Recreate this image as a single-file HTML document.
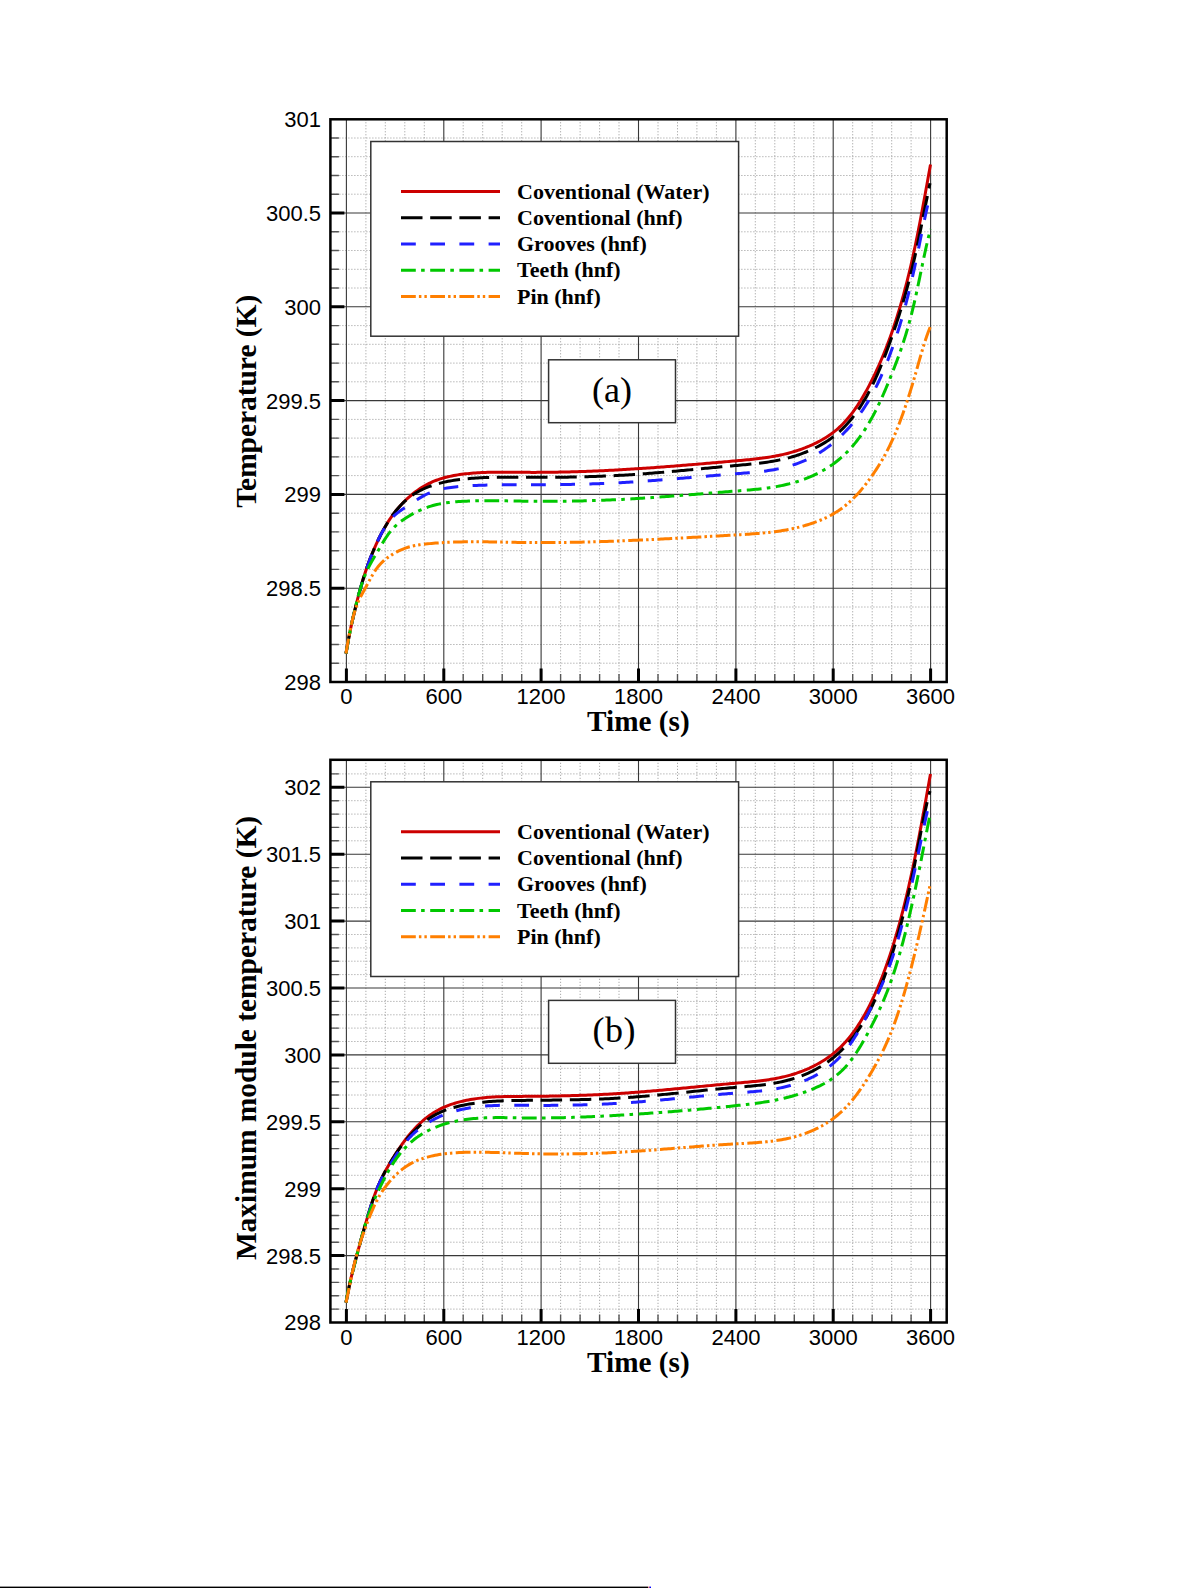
<!DOCTYPE html>
<html><head><meta charset="utf-8"><style>
html,body{margin:0;padding:0;background:#fff;width:1192px;height:1588px;overflow:hidden}
svg{position:absolute;left:0;top:0}
.tk{font-family:"Liberation Sans",sans-serif;font-size:22px;fill:#000}
.ax{font-family:"Liberation Serif",serif;font-weight:bold;font-size:30px;fill:#000}
.lg{font-family:"Liberation Serif",serif;font-weight:bold;font-size:22px;fill:#000}
.bl{font-family:"Liberation Serif",serif;font-size:36px;fill:#000}
</style></head><body>
<svg width="1192" height="1588" viewBox="0 0 1192 1588">
<path d="M365.9,119.3V682.0M385.3,119.3V682.0M404.8,119.3V682.0M424.3,119.3V682.0M463.2,119.3V682.0M482.7,119.3V682.0M502.2,119.3V682.0M521.7,119.3V682.0M560.6,119.3V682.0M580.1,119.3V682.0M599.6,119.3V682.0M619.0,119.3V682.0M658.0,119.3V682.0M677.5,119.3V682.0M696.9,119.3V682.0M716.4,119.3V682.0M755.3,119.3V682.0M774.8,119.3V682.0M794.3,119.3V682.0M813.8,119.3V682.0M852.7,119.3V682.0M872.2,119.3V682.0M891.7,119.3V682.0M911.1,119.3V682.0" stroke="#959595" stroke-width="1" stroke-dasharray="1 2" fill="none"/>
<path d="M330.4,663.2H946.7M330.4,644.5H946.7M330.4,625.7H946.7M330.4,607.0H946.7M330.4,569.4H946.7M330.4,550.7H946.7M330.4,531.9H946.7M330.4,513.2H946.7M330.4,475.6H946.7M330.4,456.9H946.7M330.4,438.1H946.7M330.4,419.4H946.7M330.4,381.8H946.7M330.4,363.1H946.7M330.4,344.3H946.7M330.4,325.6H946.7M330.4,288.0H946.7M330.4,269.3H946.7M330.4,250.5H946.7M330.4,231.8H946.7M330.4,194.2H946.7M330.4,175.5H946.7M330.4,156.7H946.7M330.4,138.0H946.7" stroke="#959595" stroke-width="1" stroke-dasharray="1 2" fill="none"/>
<path d="M346.4,119.3V682.0M443.8,119.3V682.0M541.1,119.3V682.0M638.5,119.3V682.0M735.9,119.3V682.0M833.2,119.3V682.0M930.6,119.3V682.0M330.4,588.2H946.7M330.4,494.4H946.7M330.4,400.6H946.7M330.4,306.8H946.7M330.4,213.0H946.7" stroke="#383838" stroke-width="1.1" fill="none"/>
<rect x="370.8" y="141.5" width="367.8" height="194.7" fill="#fff" stroke="#333" stroke-width="1.5"/>
<rect x="548.6" y="359.8" width="126.9" height="62.9" fill="#fff" stroke="#333" stroke-width="1.5"/>
<path d="M346.00,653.41 L346.33,651.44 L346.66,649.47 L347.00,647.50 L347.35,645.53 L347.70,643.56 L348.06,641.60 L348.43,639.63 L348.81,637.67 L349.19,635.71 L349.58,633.75 L349.97,631.79 L350.38,629.83 L350.79,627.88 L351.20,625.92 L351.63,623.97 L352.06,622.02 L352.50,620.07 L352.94,618.12 L353.40,616.17 L353.85,614.23 L354.31,612.29 L354.78,610.34 L355.25,608.40 L355.73,606.46 L356.21,604.52 L356.70,602.58 L357.19,600.65 L357.69,598.71 L358.19,596.78 L358.70,594.84 L359.22,592.91 L359.74,590.99 L360.27,589.06 L360.81,587.14 L361.36,585.21 L361.91,583.29 L362.48,581.38 L363.05,579.46 L363.64,577.55 L364.23,575.64 L364.84,573.74 L365.46,571.84 L366.09,569.94 L366.73,568.05 L367.39,566.17 L368.06,564.28 L368.74,562.41 L369.44,560.53 L370.15,558.67 L370.88,556.80 L371.62,554.95 L372.37,553.10 L373.14,551.25 L373.93,549.41 L374.72,547.58 L375.53,545.76 L376.36,543.94 L377.20,542.12 L378.05,540.31 L378.92,538.52 L379.80,536.72 L380.70,534.94 L381.62,533.16 L382.56,531.40 L383.51,529.64 L384.49,527.90 L385.48,526.17 L386.50,524.45 L387.54,522.74 L388.60,521.05 L389.69,519.38 L390.81,517.72 L391.96,516.08 L393.13,514.46 L394.33,512.86 L395.55,511.29 L396.81,509.73 L398.09,508.20 L399.40,506.69 L400.74,505.21 L402.11,503.75 L403.50,502.32 L404.92,500.91 L406.36,499.52 L407.82,498.16 L409.31,496.83 L410.82,495.52 L412.36,494.24 L413.92,493.00 L415.51,491.78 L417.12,490.60 L418.76,489.46 L420.42,488.35 L422.10,487.28 L423.82,486.25 L425.55,485.26 L427.31,484.31 L429.09,483.40 L430.90,482.55 L432.72,481.73 L434.57,480.96 L436.43,480.24 L438.31,479.56 L440.20,478.92 L442.11,478.32 L444.03,477.77 L445.96,477.26 L447.90,476.78 L449.85,476.34 L451.81,475.93 L453.77,475.56 L455.74,475.21 L457.71,474.89 L459.69,474.60 L461.66,474.32 L463.65,474.07 L465.63,473.83 L467.62,473.62 L469.61,473.42 L471.60,473.24 L473.59,473.08 L475.58,472.93 L477.58,472.80 L479.57,472.68 L481.57,472.58 L483.56,472.49 L485.56,472.42 L487.56,472.35 L489.55,472.30 L491.55,472.26 L493.55,472.22 L495.55,472.20 L497.55,472.18 L499.54,472.17 L501.54,472.17 L503.54,472.17 L505.54,472.18 L507.54,472.19 L509.54,472.20 L511.53,472.22 L513.53,472.24 L515.53,472.26 L517.53,472.28 L519.53,472.30 L521.52,472.32 L523.52,472.34 L525.52,472.35 L527.52,472.37 L529.52,472.37 L531.52,472.38 L533.51,472.38 L535.51,472.38 L537.51,472.37 L539.51,472.37 L541.51,472.36 L543.50,472.34 L545.50,472.33 L547.50,472.31 L549.50,472.28 L551.50,472.26 L553.50,472.23 L555.49,472.20 L557.49,472.16 L559.49,472.12 L561.49,472.08 L563.49,472.04 L565.48,472.00 L567.48,471.95 L569.48,471.90 L571.48,471.84 L573.47,471.79 L575.47,471.73 L577.47,471.66 L579.47,471.60 L581.46,471.53 L583.46,471.46 L585.46,471.39 L587.45,471.32 L589.45,471.24 L591.45,471.16 L593.44,471.08 L595.44,470.99 L597.44,470.91 L599.43,470.82 L601.43,470.73 L603.42,470.63 L605.42,470.54 L607.42,470.44 L609.41,470.34 L611.41,470.24 L613.40,470.13 L615.40,470.03 L617.39,469.92 L619.39,469.81 L621.38,469.69 L623.38,469.58 L625.37,469.46 L627.37,469.34 L629.36,469.22 L631.36,469.10 L633.35,468.98 L635.35,468.85 L637.34,468.72 L639.33,468.59 L641.33,468.46 L643.32,468.33 L645.32,468.19 L647.31,468.06 L649.30,467.92 L651.30,467.78 L653.29,467.64 L655.28,467.49 L657.28,467.35 L659.27,467.20 L661.26,467.06 L663.25,466.91 L665.25,466.76 L667.24,466.61 L669.23,466.45 L671.22,466.30 L673.22,466.15 L675.21,465.99 L677.20,465.83 L679.19,465.67 L681.19,465.52 L683.18,465.36 L685.17,465.19 L687.16,465.03 L689.15,464.87 L691.14,464.70 L693.13,464.54 L695.13,464.37 L697.12,464.21 L699.11,464.04 L701.10,463.87 L703.09,463.70 L705.08,463.53 L707.07,463.36 L709.06,463.19 L711.06,463.02 L713.05,462.85 L715.04,462.68 L717.03,462.50 L719.02,462.33 L721.01,462.16 L723.00,461.98 L724.99,461.81 L726.98,461.63 L728.97,461.46 L730.96,461.28 L732.95,461.11 L734.94,460.93 L736.93,460.76 L738.92,460.58 L740.91,460.40 L742.90,460.22 L744.89,460.04 L746.88,459.85 L748.87,459.65 L750.86,459.45 L752.85,459.24 L754.83,459.03 L756.82,458.80 L758.80,458.56 L760.79,458.32 L762.77,458.06 L764.75,457.78 L766.73,457.50 L768.70,457.19 L770.67,456.88 L772.64,456.54 L774.61,456.19 L776.57,455.82 L778.53,455.43 L780.49,455.03 L782.44,454.60 L784.39,454.15 L786.33,453.68 L788.27,453.18 L790.20,452.66 L792.12,452.12 L794.04,451.56 L795.95,450.97 L797.85,450.36 L799.74,449.72 L801.63,449.05 L803.50,448.36 L805.37,447.65 L807.22,446.90 L809.07,446.14 L810.90,445.34 L812.72,444.52 L814.53,443.67 L816.33,442.80 L818.11,441.90 L819.88,440.97 L821.64,440.02 L823.38,439.03 L825.09,438.01 L826.79,436.95 L828.46,435.86 L830.11,434.73 L831.74,433.57 L833.33,432.37 L834.90,431.13 L836.45,429.86 L837.96,428.55 L839.44,427.22 L840.90,425.85 L842.32,424.45 L843.72,423.02 L845.09,421.56 L846.43,420.08 L847.74,418.57 L849.02,417.03 L850.27,415.48 L851.50,413.90 L852.71,412.31 L853.89,410.70 L855.04,409.07 L856.18,407.42 L857.30,405.77 L858.39,404.10 L859.47,402.41 L860.53,400.72 L861.58,399.02 L862.60,397.30 L863.62,395.58 L864.61,393.85 L865.60,392.11 L866.56,390.36 L867.52,388.61 L868.46,386.84 L869.39,385.08 L870.31,383.30 L871.22,381.52 L872.12,379.74 L873.01,377.94 L873.88,376.15 L874.75,374.35 L875.60,372.54 L876.45,370.73 L877.29,368.92 L878.11,367.10 L878.93,365.27 L879.74,363.45 L880.53,361.61 L881.32,359.78 L882.10,357.94 L882.87,356.09 L883.63,354.24 L884.38,352.39 L885.12,350.54 L885.86,348.68 L886.58,346.82 L887.30,344.95 L888.00,343.08 L888.70,341.21 L889.39,339.33 L890.08,337.46 L890.75,335.58 L891.42,333.69 L892.08,331.81 L892.73,329.92 L893.38,328.03 L894.01,326.13 L894.64,324.24 L895.27,322.34 L895.88,320.44 L896.49,318.53 L897.10,316.63 L897.69,314.72 L898.28,312.81 L898.87,310.90 L899.44,308.99 L900.01,307.07 L900.58,305.16 L901.13,303.24 L901.68,301.32 L902.23,299.39 L902.77,297.47 L903.30,295.54 L903.83,293.62 L904.35,291.69 L904.87,289.76 L905.38,287.82 L905.88,285.89 L906.38,283.96 L906.88,282.02 L907.37,280.08 L907.85,278.14 L908.33,276.20 L908.80,274.26 L909.27,272.32 L909.74,270.38 L910.20,268.43 L910.65,266.49 L911.10,264.54 L911.55,262.59 L911.99,260.64 L912.43,258.69 L912.86,256.74 L913.29,254.79 L913.72,252.84 L914.14,250.88 L914.55,248.93 L914.97,246.98 L915.38,245.02 L915.78,243.06 L916.19,241.11 L916.59,239.15 L916.98,237.19 L917.38,235.23 L917.77,233.27 L918.16,231.31 L918.55,229.35 L918.93,227.39 L919.31,225.43 L919.69,223.47 L920.07,221.50 L920.45,219.54 L920.82,217.58 L921.19,215.62 L921.56,213.65 L921.93,211.69 L922.30,209.72 L922.67,207.76 L923.03,205.80 L923.40,203.83 L923.76,201.87 L924.12,199.90 L924.48,197.93 L924.84,195.97 L925.20,194.00 L925.56,192.04 L925.91,190.07 L926.27,188.10 L926.62,186.14 L926.98,184.17 L927.33,182.20 L927.69,180.24 L928.04,178.27 L928.39,176.30 L928.74,174.34 L929.10,172.37 L929.45,170.40 L929.80,168.44 L930.15,166.47 L930.50,164.50" fill="none" stroke="#cc0000" stroke-width="3"/>
<path d="M346.00,653.41 L346.33,651.44 L346.66,649.47 L347.00,647.50 L347.35,645.53 L347.70,643.56 L348.06,641.60 L348.43,639.63 L348.81,637.67 L349.19,635.71 L349.58,633.75 L349.97,631.79 L350.38,629.83 L350.79,627.87 L351.21,625.92 L351.63,623.97 L352.06,622.02 L352.50,620.07 L352.95,618.12 L353.40,616.17 L353.85,614.23 L354.32,612.28 L354.78,610.34 L355.25,608.40 L355.73,606.46 L356.21,604.52 L356.70,602.58 L357.19,600.64 L357.69,598.71 L358.19,596.77 L358.70,594.84 L359.22,592.91 L359.74,590.98 L360.28,589.05 L360.81,587.13 L361.36,585.21 L361.92,583.29 L362.48,581.37 L363.05,579.46 L363.64,577.55 L364.23,575.64 L364.84,573.73 L365.46,571.83 L366.09,569.94 L366.74,568.05 L367.39,566.16 L368.06,564.28 L368.75,562.40 L369.44,560.53 L370.16,558.66 L370.88,556.80 L371.62,554.94 L372.38,553.09 L373.14,551.24 L373.93,549.41 L374.73,547.57 L375.54,545.75 L376.36,543.93 L377.20,542.11 L378.06,540.31 L378.92,538.51 L379.81,536.72 L380.71,534.93 L381.63,533.16 L382.57,531.39 L383.52,529.64 L384.50,527.89 L385.49,526.16 L386.51,524.44 L387.55,522.73 L388.61,521.04 L389.70,519.36 L390.81,517.70 L391.95,516.06 L393.12,514.44 L394.31,512.84 L395.54,511.26 L396.80,509.71 L398.09,508.18 L399.41,506.68 L400.76,505.21 L402.15,503.78 L403.58,502.38 L405.04,501.01 L406.54,499.69 L408.07,498.41 L409.64,497.17 L411.24,495.98 L412.88,494.83 L414.55,493.74 L416.25,492.69 L417.99,491.69 L419.75,490.74 L421.53,489.84 L423.34,488.99 L425.16,488.18 L427.01,487.42 L428.87,486.69 L430.75,486.00 L432.63,485.34 L434.53,484.72 L436.45,484.14 L438.37,483.59 L440.30,483.08 L442.24,482.60 L444.19,482.15 L446.14,481.72 L448.10,481.33 L450.06,480.97 L452.03,480.63 L454.01,480.31 L455.98,480.02 L457.96,479.75 L459.95,479.50 L461.93,479.26 L463.92,479.04 L465.90,478.83 L467.89,478.65 L469.88,478.47 L471.88,478.31 L473.87,478.17 L475.86,478.03 L477.86,477.91 L479.85,477.80 L481.85,477.71 L483.85,477.62 L485.84,477.55 L487.84,477.48 L489.84,477.42 L491.84,477.38 L493.83,477.34 L495.83,477.30 L497.83,477.28 L499.83,477.26 L501.83,477.25 L503.83,477.24 L505.82,477.24 L507.82,477.24 L509.82,477.24 L511.82,477.25 L513.82,477.26 L515.82,477.27 L517.81,477.28 L519.81,477.29 L521.81,477.30 L523.81,477.32 L525.81,477.33 L527.81,477.34 L529.80,477.34 L531.80,477.35 L533.80,477.35 L535.80,477.36 L537.80,477.36 L539.80,477.36 L541.80,477.35 L543.79,477.35 L545.79,477.34 L547.79,477.33 L549.79,477.32 L551.79,477.31 L553.79,477.30 L555.78,477.28 L557.78,477.26 L559.78,477.24 L561.78,477.22 L563.78,477.19 L565.78,477.16 L567.77,477.13 L569.77,477.10 L571.77,477.06 L573.77,477.02 L575.77,476.98 L577.76,476.94 L579.76,476.89 L581.76,476.85 L583.76,476.79 L585.76,476.74 L587.75,476.68 L589.75,476.62 L591.75,476.56 L593.75,476.50 L595.74,476.43 L597.74,476.35 L599.74,476.28 L601.73,476.20 L603.73,476.12 L605.73,476.04 L607.72,475.95 L609.72,475.86 L611.72,475.76 L613.71,475.67 L615.71,475.57 L617.70,475.46 L619.70,475.35 L621.69,475.24 L623.69,475.13 L625.68,475.01 L627.68,474.89 L629.67,474.76 L631.67,474.63 L633.66,474.50 L635.66,474.37 L637.65,474.23 L639.64,474.09 L641.64,473.94 L643.63,473.80 L645.62,473.65 L647.62,473.50 L649.61,473.34 L651.60,473.19 L653.59,473.03 L655.58,472.87 L657.58,472.70 L659.57,472.54 L661.56,472.37 L663.55,472.20 L665.54,472.03 L667.53,471.86 L669.52,471.69 L671.51,471.51 L673.50,471.33 L675.49,471.15 L677.48,470.97 L679.48,470.79 L681.47,470.61 L683.46,470.43 L685.45,470.24 L687.43,470.06 L689.42,469.87 L691.41,469.68 L693.40,469.50 L695.39,469.31 L697.38,469.12 L699.37,468.93 L701.36,468.74 L703.35,468.55 L705.34,468.36 L707.33,468.17 L709.32,467.98 L711.31,467.80 L713.30,467.61 L715.29,467.42 L717.28,467.23 L719.27,467.04 L721.26,466.85 L723.25,466.67 L725.24,466.48 L727.23,466.30 L729.22,466.11 L731.21,465.93 L733.20,465.75 L735.19,465.57 L737.18,465.39 L739.17,465.21 L741.16,465.03 L743.15,464.84 L745.14,464.66 L747.13,464.47 L749.12,464.28 L751.10,464.08 L753.09,463.88 L755.08,463.66 L757.07,463.44 L759.05,463.21 L761.03,462.96 L763.02,462.71 L765.00,462.44 L766.97,462.16 L768.95,461.86 L770.92,461.54 L772.90,461.21 L774.86,460.86 L776.83,460.50 L778.79,460.11 L780.74,459.70 L782.70,459.27 L784.64,458.82 L786.58,458.35 L788.52,457.85 L790.45,457.33 L792.37,456.78 L794.29,456.21 L796.19,455.61 L798.09,454.99 L799.98,454.34 L801.86,453.67 L803.73,452.96 L805.59,452.23 L807.44,451.47 L809.28,450.69 L811.11,449.88 L812.92,449.04 L814.72,448.17 L816.51,447.27 L818.28,446.35 L820.04,445.40 L821.78,444.42 L823.51,443.41 L825.21,442.37 L826.90,441.30 L828.56,440.19 L830.20,439.06 L831.82,437.89 L833.42,436.68 L834.99,435.45 L836.54,434.18 L838.06,432.88 L839.55,431.56 L841.02,430.20 L842.46,428.82 L843.88,427.41 L845.27,425.98 L846.64,424.52 L847.98,423.03 L849.29,421.53 L850.58,420.00 L851.85,418.46 L853.09,416.89 L854.31,415.31 L855.50,413.71 L856.68,412.09 L857.83,410.45 L858.95,408.80 L860.06,407.14 L861.15,405.46 L862.21,403.77 L863.26,402.07 L864.28,400.35 L865.29,398.63 L866.28,396.89 L867.26,395.15 L868.21,393.39 L869.15,391.63 L870.07,389.85 L870.98,388.07 L871.87,386.29 L872.75,384.49 L873.61,382.69 L874.46,380.88 L875.30,379.07 L876.13,377.25 L876.94,375.42 L877.74,373.59 L878.53,371.75 L879.31,369.91 L880.08,368.07 L880.85,366.22 L881.60,364.37 L882.35,362.52 L883.08,360.66 L883.81,358.80 L884.54,356.94 L885.25,355.07 L885.96,353.20 L886.66,351.33 L887.36,349.46 L888.05,347.58 L888.73,345.70 L889.41,343.83 L890.08,341.94 L890.75,340.06 L891.41,338.17 L892.07,336.29 L892.72,334.40 L893.37,332.51 L894.02,330.62 L894.66,328.72 L895.29,326.83 L895.92,324.93 L896.55,323.04 L897.18,321.14 L897.79,319.24 L898.41,317.33 L899.01,315.43 L899.62,313.53 L900.21,311.62 L900.81,309.71 L901.39,307.80 L901.97,305.89 L902.55,303.97 L903.12,302.06 L903.68,300.14 L904.24,298.22 L904.79,296.30 L905.34,294.38 L905.88,292.45 L906.41,290.53 L906.94,288.60 L907.46,286.67 L907.98,284.74 L908.49,282.81 L909.00,280.88 L909.50,278.94 L909.99,277.01 L910.48,275.07 L910.96,273.13 L911.44,271.19 L911.91,269.25 L912.38,267.30 L912.85,265.36 L913.30,263.41 L913.76,261.47 L914.21,259.52 L914.65,257.57 L915.09,255.62 L915.52,253.67 L915.95,251.72 L916.38,249.77 L916.80,247.81 L917.22,245.86 L917.64,243.91 L918.05,241.95 L918.47,240.00 L918.88,238.04 L919.28,236.08 L919.69,234.13 L920.09,232.17 L920.50,230.21 L920.90,228.25 L921.29,226.30 L921.69,224.34 L922.09,222.38 L922.49,220.42 L922.88,218.46 L923.28,216.50 L923.67,214.54 L924.06,212.58 L924.46,210.62 L924.85,208.66 L925.24,206.71 L925.63,204.75 L926.03,202.79 L926.42,200.83 L926.82,198.87 L927.21,196.91 L927.61,194.95 L928.00,192.99 L928.40,191.03 L928.80,189.07 L929.20,187.12 L929.60,185.16 L930.00,183.20" fill="none" stroke="#000000" stroke-width="3" stroke-dasharray="21.5 7.7"/>
<path d="M346.00,653.41 L346.33,651.44 L346.67,649.46 L347.01,647.50 L347.35,645.53 L347.71,643.56 L348.07,641.59 L348.44,639.63 L348.81,637.67 L349.19,635.70 L349.58,633.74 L349.98,631.78 L350.38,629.83 L350.79,627.87 L351.21,625.92 L351.63,623.96 L352.06,622.01 L352.50,620.06 L352.94,618.11 L353.39,616.16 L353.85,614.22 L354.31,612.27 L354.78,610.33 L355.25,608.39 L355.72,606.45 L356.21,604.51 L356.69,602.57 L357.19,600.63 L357.69,598.70 L358.19,596.76 L358.70,594.83 L359.22,592.90 L359.75,590.97 L360.28,589.04 L360.82,587.12 L361.37,585.20 L361.93,583.28 L362.50,581.36 L363.07,579.45 L363.66,577.54 L364.26,575.63 L364.86,573.73 L365.48,571.82 L366.11,569.93 L366.75,568.04 L367.41,566.15 L368.08,564.26 L368.76,562.38 L369.45,560.51 L370.16,558.64 L370.88,556.78 L371.62,554.92 L372.37,553.06 L373.13,551.22 L373.91,549.38 L374.70,547.54 L375.51,545.71 L376.33,543.89 L377.16,542.07 L378.02,540.27 L378.89,538.47 L379.78,536.68 L380.69,534.90 L381.62,533.13 L382.58,531.38 L383.57,529.64 L384.59,527.92 L385.65,526.23 L386.75,524.56 L387.90,522.92 L389.09,521.32 L390.35,519.77 L391.67,518.27 L393.05,516.82 L394.49,515.43 L395.98,514.11 L397.53,512.84 L399.12,511.62 L400.74,510.46 L402.39,509.32 L404.04,508.21 L405.71,507.10 L407.37,505.98 L409.02,504.87 L410.69,503.76 L412.35,502.65 L414.02,501.56 L415.71,500.48 L417.40,499.41 L419.10,498.37 L420.82,497.35 L422.56,496.37 L424.32,495.42 L426.10,494.51 L427.90,493.65 L429.73,492.85 L431.59,492.10 L433.46,491.41 L435.36,490.77 L437.27,490.18 L439.20,489.65 L441.14,489.17 L443.09,488.74 L445.05,488.35 L447.01,488.00 L448.99,487.68 L450.97,487.41 L452.95,487.16 L454.94,486.94 L456.93,486.74 L458.92,486.55 L460.91,486.39 L462.90,486.23 L464.89,486.08 L466.89,485.95 L468.88,485.82 L470.88,485.70 L472.87,485.60 L474.87,485.50 L476.87,485.41 L478.87,485.33 L480.86,485.25 L482.86,485.19 L484.86,485.13 L486.86,485.07 L488.85,485.03 L490.85,484.99 L492.85,484.95 L494.85,484.92 L496.85,484.90 L498.85,484.87 L500.85,484.86 L502.84,484.84 L504.84,484.83 L506.84,484.82 L508.84,484.82 L510.84,484.82 L512.84,484.81 L514.84,484.81 L516.84,484.81 L518.83,484.81 L520.83,484.82 L522.83,484.82 L524.83,484.82 L526.83,484.81 L528.83,484.81 L530.83,484.81 L532.83,484.80 L534.82,484.80 L536.82,484.79 L538.82,484.78 L540.82,484.77 L542.82,484.76 L544.82,484.74 L546.82,484.73 L548.82,484.71 L550.81,484.69 L552.81,484.68 L554.81,484.65 L556.81,484.63 L558.81,484.60 L560.81,484.58 L562.81,484.55 L564.81,484.52 L566.80,484.48 L568.80,484.45 L570.80,484.41 L572.80,484.37 L574.80,484.33 L576.80,484.29 L578.79,484.24 L580.79,484.19 L582.79,484.14 L584.79,484.09 L586.79,484.03 L588.78,483.97 L590.78,483.91 L592.78,483.85 L594.78,483.78 L596.77,483.71 L598.77,483.64 L600.77,483.57 L602.77,483.49 L604.76,483.41 L606.76,483.32 L608.76,483.24 L610.75,483.15 L612.75,483.06 L614.75,482.96 L616.74,482.86 L618.74,482.76 L620.74,482.66 L622.73,482.55 L624.73,482.44 L626.72,482.32 L628.72,482.20 L630.71,482.08 L632.71,481.96 L634.70,481.83 L636.70,481.70 L638.69,481.57 L640.69,481.44 L642.68,481.30 L644.67,481.16 L646.67,481.02 L648.66,480.87 L650.66,480.73 L652.65,480.58 L654.64,480.43 L656.64,480.28 L658.63,480.12 L660.62,479.97 L662.61,479.81 L664.61,479.65 L666.60,479.49 L668.59,479.33 L670.58,479.17 L672.57,479.01 L674.57,478.84 L676.56,478.68 L678.55,478.51 L680.54,478.34 L682.53,478.18 L684.53,478.01 L686.52,477.84 L688.51,477.67 L690.50,477.50 L692.49,477.33 L694.48,477.16 L696.48,476.99 L698.47,476.82 L700.46,476.65 L702.45,476.48 L704.44,476.31 L706.43,476.14 L708.42,475.97 L710.42,475.81 L712.41,475.64 L714.40,475.47 L716.39,475.31 L718.38,475.14 L720.38,474.98 L722.37,474.82 L724.36,474.66 L726.35,474.50 L728.35,474.34 L730.34,474.18 L732.33,474.03 L734.32,473.87 L736.32,473.72 L738.31,473.57 L740.30,473.42 L742.30,473.27 L744.29,473.12 L746.28,472.96 L748.27,472.80 L750.27,472.63 L752.26,472.45 L754.25,472.27 L756.24,472.07 L758.22,471.86 L760.21,471.64 L762.20,471.41 L764.18,471.16 L766.16,470.89 L768.14,470.61 L770.11,470.31 L772.09,469.99 L774.06,469.65 L776.02,469.28 L777.98,468.89 L779.94,468.48 L781.89,468.04 L783.83,467.58 L785.77,467.09 L787.70,466.57 L789.62,466.03 L791.54,465.45 L793.44,464.85 L795.34,464.21 L797.22,463.55 L799.10,462.85 L800.96,462.13 L802.81,461.37 L804.65,460.59 L806.47,459.77 L808.28,458.92 L810.08,458.04 L811.86,457.13 L813.62,456.19 L815.37,455.22 L817.10,454.22 L818.81,453.19 L820.51,452.14 L822.19,451.05 L823.85,449.94 L825.49,448.80 L827.12,447.64 L828.72,446.44 L830.31,445.23 L831.87,443.98 L833.42,442.72 L834.94,441.43 L836.45,440.12 L837.94,438.78 L839.41,437.43 L840.86,436.05 L842.29,434.66 L843.70,433.24 L845.10,431.81 L846.47,430.36 L847.83,428.89 L849.17,427.41 L850.49,425.91 L851.79,424.39 L853.07,422.86 L854.34,421.31 L855.59,419.75 L856.81,418.17 L858.02,416.58 L859.21,414.97 L860.38,413.35 L861.53,411.71 L862.66,410.06 L863.77,408.40 L864.86,406.73 L865.93,405.04 L866.99,403.35 L868.03,401.64 L869.05,399.92 L870.05,398.19 L871.03,396.45 L872.00,394.70 L872.96,392.95 L873.89,391.18 L874.82,389.41 L875.72,387.63 L876.62,385.84 L877.50,384.04 L878.36,382.24 L879.21,380.43 L880.05,378.62 L880.88,376.80 L881.69,374.97 L882.50,373.14 L883.29,371.31 L884.07,369.47 L884.84,367.62 L885.59,365.77 L886.34,363.92 L887.08,362.06 L887.81,360.20 L888.53,358.34 L889.24,356.47 L889.94,354.60 L890.63,352.72 L891.32,350.84 L891.99,348.96 L892.66,347.08 L893.32,345.19 L893.97,343.30 L894.62,341.41 L895.26,339.52 L895.89,337.62 L896.51,335.72 L897.13,333.82 L897.74,331.91 L898.34,330.01 L898.93,328.10 L899.52,326.19 L900.10,324.28 L900.68,322.36 L901.25,320.45 L901.81,318.53 L902.36,316.61 L902.91,314.69 L903.46,312.76 L903.99,310.84 L904.52,308.91 L905.05,306.98 L905.57,305.05 L906.08,303.12 L906.59,301.19 L907.09,299.25 L907.59,297.32 L908.08,295.38 L908.57,293.44 L909.05,291.50 L909.52,289.56 L909.99,287.62 L910.46,285.67 L910.92,283.73 L911.38,281.78 L911.83,279.84 L912.28,277.89 L912.72,275.94 L913.16,273.99 L913.59,272.04 L914.02,270.09 L914.45,268.13 L914.87,266.18 L915.29,264.22 L915.70,262.27 L916.11,260.31 L916.52,258.36 L916.93,256.40 L917.34,254.44 L917.74,252.49 L918.14,250.53 L918.54,248.57 L918.94,246.61 L919.34,244.65 L919.74,242.69 L920.14,240.74 L920.54,238.78 L920.94,236.82 L921.34,234.86 L921.74,232.90 L922.15,230.94 L922.55,228.99 L922.96,227.03 L923.36,225.07 L923.77,223.12 L924.19,221.16 L924.60,219.21 L925.02,217.25 L925.45,215.30 L925.87,213.35 L926.30,211.39 L926.74,209.44 L927.18,207.49 L927.63,205.55 L928.09,203.60 L928.55,201.66 L929.02,199.71 L929.50,197.77 L930.00,195.84 L930.50,193.90" fill="none" stroke="#2020ff" stroke-width="3" stroke-dasharray="14.8 14.4"/>
<path d="M346.00,653.40 L346.35,651.43 L346.70,649.47 L347.05,647.50 L347.41,645.54 L347.77,643.57 L348.14,641.61 L348.51,639.65 L348.88,637.68 L349.26,635.72 L349.64,633.76 L350.03,631.80 L350.42,629.84 L350.82,627.89 L351.22,625.93 L351.63,623.97 L352.04,622.02 L352.46,620.07 L352.88,618.12 L353.31,616.17 L353.75,614.22 L354.20,612.27 L354.65,610.32 L355.11,608.38 L355.57,606.44 L356.05,604.50 L356.53,602.56 L357.03,600.62 L357.53,598.69 L358.05,596.76 L358.57,594.84 L359.11,592.91 L359.66,590.99 L360.23,589.08 L360.81,587.17 L361.41,585.26 L362.03,583.36 L362.67,581.47 L363.34,579.59 L364.03,577.71 L364.75,575.85 L365.50,574.00 L366.29,572.16 L367.11,570.34 L367.97,568.54 L368.86,566.75 L369.78,564.98 L370.74,563.23 L371.72,561.49 L372.72,559.76 L373.74,558.04 L374.76,556.32 L375.78,554.61 L376.79,552.88 L377.80,551.16 L378.80,549.43 L379.81,547.71 L380.82,545.98 L381.83,544.26 L382.86,542.55 L383.90,540.85 L384.96,539.15 L386.05,537.48 L387.16,535.82 L388.31,534.19 L389.51,532.59 L390.76,531.03 L392.06,529.51 L393.41,528.04 L394.81,526.62 L396.26,525.24 L397.76,523.92 L399.30,522.66 L400.89,521.44 L402.50,520.27 L404.15,519.14 L405.82,518.04 L407.50,516.96 L409.20,515.92 L410.92,514.90 L412.66,513.91 L414.41,512.96 L416.19,512.04 L417.98,511.16 L419.79,510.31 L421.61,509.50 L423.46,508.73 L425.32,508.01 L427.19,507.32 L429.09,506.68 L430.99,506.09 L432.91,505.54 L434.84,505.03 L436.79,504.56 L438.74,504.13 L440.70,503.74 L442.66,503.39 L444.63,503.07 L446.61,502.78 L448.59,502.52 L450.57,502.29 L452.56,502.08 L454.55,501.90 L456.54,501.73 L458.53,501.59 L460.52,501.45 L462.52,501.33 L464.51,501.22 L466.51,501.13 L468.50,501.04 L470.50,500.96 L472.50,500.90 L474.49,500.84 L476.49,500.79 L478.49,500.76 L480.48,500.73 L482.48,500.70 L484.48,500.69 L486.48,500.68 L488.47,500.68 L490.47,500.68 L492.47,500.69 L494.46,500.70 L496.46,500.72 L498.46,500.75 L500.46,500.77 L502.45,500.80 L504.45,500.83 L506.45,500.87 L508.44,500.90 L510.44,500.94 L512.44,500.97 L514.44,501.01 L516.43,501.05 L518.43,501.08 L520.43,501.12 L522.42,501.15 L524.42,501.18 L526.42,501.21 L528.42,501.24 L530.41,501.26 L532.41,501.28 L534.41,501.30 L536.40,501.32 L538.40,501.33 L540.40,501.34 L542.40,501.34 L544.39,501.35 L546.39,501.35 L548.39,501.35 L550.39,501.34 L552.38,501.34 L554.38,501.33 L556.38,501.31 L558.38,501.30 L560.37,501.28 L562.37,501.26 L564.37,501.24 L566.37,501.21 L568.36,501.18 L570.36,501.15 L572.36,501.12 L574.35,501.08 L576.35,501.04 L578.35,501.00 L580.34,500.95 L582.34,500.90 L584.34,500.85 L586.33,500.80 L588.33,500.74 L590.33,500.69 L592.32,500.62 L594.32,500.56 L596.32,500.49 L598.31,500.42 L600.31,500.35 L602.30,500.28 L604.30,500.20 L606.30,500.12 L608.29,500.04 L610.29,499.95 L612.28,499.86 L614.28,499.77 L616.27,499.68 L618.27,499.58 L620.26,499.48 L622.26,499.38 L624.25,499.27 L626.25,499.17 L628.24,499.06 L630.24,498.94 L632.23,498.83 L634.22,498.71 L636.22,498.59 L638.21,498.47 L640.21,498.35 L642.20,498.22 L644.19,498.09 L646.18,497.96 L648.18,497.83 L650.17,497.69 L652.16,497.56 L654.16,497.42 L656.15,497.28 L658.14,497.14 L660.13,497.00 L662.13,496.85 L664.12,496.71 L666.11,496.56 L668.10,496.41 L670.09,496.26 L672.09,496.11 L674.08,495.96 L676.07,495.81 L678.06,495.65 L680.05,495.50 L682.04,495.34 L684.03,495.19 L686.02,495.03 L688.02,494.87 L690.01,494.71 L692.00,494.55 L693.99,494.40 L695.98,494.24 L697.97,494.07 L699.96,493.91 L701.95,493.75 L703.94,493.59 L705.93,493.43 L707.93,493.27 L709.92,493.11 L711.91,492.95 L713.90,492.78 L715.89,492.62 L717.88,492.46 L719.87,492.30 L721.86,492.14 L723.85,491.98 L725.84,491.82 L727.83,491.66 L729.83,491.50 L731.82,491.35 L733.81,491.19 L735.80,491.03 L737.79,490.88 L739.78,490.72 L741.77,490.57 L743.76,490.41 L745.76,490.25 L747.75,490.08 L749.74,489.91 L751.72,489.73 L753.71,489.54 L755.70,489.35 L757.69,489.15 L759.67,488.93 L761.66,488.71 L763.64,488.47 L765.62,488.22 L767.60,487.96 L769.58,487.68 L771.56,487.38 L773.53,487.07 L775.50,486.74 L777.47,486.39 L779.43,486.02 L781.39,485.63 L783.34,485.22 L785.29,484.78 L787.24,484.33 L789.18,483.85 L791.11,483.34 L793.04,482.82 L794.95,482.26 L796.87,481.69 L798.77,481.08 L800.67,480.45 L802.55,479.79 L804.43,479.11 L806.29,478.40 L808.15,477.66 L810.00,476.89 L811.83,476.10 L813.65,475.28 L815.46,474.43 L817.25,473.56 L819.04,472.66 L820.80,471.73 L822.55,470.77 L824.29,469.78 L826.01,468.76 L827.71,467.71 L829.38,466.62 L831.04,465.51 L832.68,464.37 L834.29,463.19 L835.89,461.98 L837.46,460.75 L839.00,459.49 L840.53,458.19 L842.02,456.87 L843.50,455.53 L844.95,454.15 L846.38,452.76 L847.78,451.34 L849.16,449.89 L850.52,448.43 L851.85,446.94 L853.16,445.43 L854.45,443.90 L855.71,442.36 L856.96,440.79 L858.17,439.21 L859.37,437.61 L860.55,436.00 L861.70,434.37 L862.83,432.72 L863.95,431.06 L865.04,429.39 L866.11,427.71 L867.16,426.01 L868.20,424.30 L869.22,422.58 L870.22,420.85 L871.20,419.11 L872.17,417.37 L873.12,415.61 L874.05,413.84 L874.97,412.07 L875.88,410.29 L876.77,408.50 L877.65,406.71 L878.51,404.91 L879.37,403.10 L880.21,401.29 L881.05,399.48 L881.87,397.66 L882.69,395.84 L883.50,394.01 L884.30,392.18 L885.09,390.35 L885.87,388.51 L886.65,386.67 L887.42,384.83 L888.18,382.98 L888.94,381.13 L889.69,379.28 L890.44,377.43 L891.18,375.57 L891.91,373.72 L892.64,371.86 L893.36,370.00 L894.08,368.13 L894.80,366.27 L895.51,364.40 L896.22,362.53 L896.92,360.66 L897.61,358.79 L898.30,356.91 L898.98,355.04 L899.65,353.16 L900.32,351.27 L900.98,349.39 L901.62,347.50 L902.26,345.60 L902.90,343.71 L903.52,341.81 L904.13,339.91 L904.73,338.01 L905.33,336.10 L905.91,334.19 L906.49,332.28 L907.06,330.36 L907.62,328.44 L908.17,326.52 L908.71,324.60 L909.24,322.68 L909.76,320.75 L910.28,318.82 L910.79,316.89 L911.29,314.95 L911.78,313.02 L912.26,311.08 L912.74,309.14 L913.21,307.20 L913.67,305.26 L914.13,303.31 L914.58,301.37 L915.02,299.42 L915.46,297.47 L915.89,295.52 L916.32,293.57 L916.74,291.62 L917.16,289.66 L917.58,287.71 L917.99,285.76 L918.40,283.80 L918.81,281.85 L919.22,279.89 L919.63,277.94 L920.04,275.98 L920.44,274.02 L920.85,272.07 L921.25,270.11 L921.66,268.16 L922.07,266.20 L922.47,264.25 L922.88,262.29 L923.29,260.34 L923.71,258.38 L924.12,256.43 L924.54,254.48 L924.96,252.52 L925.39,250.57 L925.82,248.62 L926.25,246.67 L926.69,244.72 L927.14,242.78 L927.59,240.83 L928.05,238.89 L928.52,236.95 L929.00,235.01 L929.48,233.07 L929.99,231.14 L930.50,229.21" fill="none" stroke="#00c800" stroke-width="3" stroke-dasharray="14.8 5.3 3.6 5.5"/>
<path d="M346.00,653.42 L346.32,651.45 L346.64,649.48 L346.97,647.51 L347.30,645.54 L347.64,643.58 L347.99,641.61 L348.34,639.65 L348.70,637.68 L349.07,635.72 L349.45,633.76 L349.83,631.80 L350.23,629.85 L350.64,627.89 L351.06,625.94 L351.49,623.99 L351.94,622.05 L352.40,620.11 L352.88,618.17 L353.38,616.24 L353.90,614.31 L354.45,612.39 L355.03,610.48 L355.65,608.59 L356.30,606.70 L357.00,604.83 L357.73,602.97 L358.52,601.14 L359.35,599.32 L360.22,597.53 L361.14,595.76 L362.08,594.00 L363.05,592.25 L364.02,590.51 L364.98,588.76 L365.93,587.00 L366.87,585.25 L367.81,583.49 L368.76,581.73 L369.70,579.97 L370.66,578.22 L371.64,576.48 L372.63,574.75 L373.66,573.04 L374.72,571.34 L375.82,569.68 L376.98,568.06 L378.21,566.48 L379.50,564.96 L380.85,563.49 L382.26,562.08 L383.74,560.74 L385.27,559.46 L386.85,558.24 L388.46,557.07 L390.11,555.94 L391.78,554.85 L393.48,553.80 L395.20,552.79 L396.95,551.83 L398.73,550.92 L400.53,550.07 L402.36,549.27 L404.21,548.53 L406.09,547.86 L407.99,547.25 L409.91,546.70 L411.85,546.21 L413.79,545.77 L415.75,545.38 L417.72,545.04 L419.69,544.74 L421.67,544.47 L423.65,544.23 L425.63,544.02 L427.62,543.82 L429.61,543.63 L431.59,543.45 L433.58,543.28 L435.57,543.12 L437.56,542.97 L439.55,542.84 L441.54,542.71 L443.54,542.59 L445.53,542.48 L447.52,542.37 L449.52,542.28 L451.51,542.20 L453.50,542.12 L455.50,542.05 L457.49,541.99 L459.49,541.94 L461.48,541.89 L463.48,541.86 L465.48,541.83 L467.47,541.80 L469.47,541.78 L471.46,541.77 L473.46,541.76 L475.45,541.76 L477.45,541.77 L479.45,541.78 L481.44,541.79 L483.44,541.81 L485.43,541.83 L487.43,541.85 L489.42,541.88 L491.42,541.91 L493.41,541.94 L495.41,541.97 L497.41,542.01 L499.40,542.05 L501.40,542.08 L503.39,542.12 L505.39,542.16 L507.38,542.20 L509.38,542.24 L511.37,542.28 L513.37,542.32 L515.36,542.36 L517.36,542.39 L519.36,542.42 L521.35,542.46 L523.35,542.49 L525.34,542.51 L527.34,542.53 L529.33,542.55 L531.33,542.57 L533.33,542.59 L535.32,542.60 L537.32,542.61 L539.31,542.61 L541.31,542.61 L543.30,542.61 L545.30,542.61 L547.30,542.61 L549.29,542.60 L551.29,542.59 L553.28,542.58 L555.28,542.56 L557.27,542.54 L559.27,542.52 L561.27,542.50 L563.26,542.47 L565.26,542.45 L567.25,542.42 L569.25,542.38 L571.24,542.35 L573.24,542.31 L575.23,542.27 L577.23,542.23 L579.23,542.19 L581.22,542.14 L583.22,542.10 L585.21,542.05 L587.21,542.00 L589.20,541.94 L591.20,541.89 L593.19,541.83 L595.19,541.77 L597.18,541.71 L599.18,541.65 L601.17,541.59 L603.17,541.52 L605.16,541.45 L607.15,541.39 L609.15,541.32 L611.14,541.24 L613.14,541.17 L615.13,541.10 L617.13,541.02 L619.12,540.94 L621.12,540.87 L623.11,540.79 L625.10,540.70 L627.10,540.62 L629.09,540.54 L631.09,540.45 L633.08,540.37 L635.07,540.28 L637.07,540.19 L639.06,540.10 L641.06,540.01 L643.05,539.92 L645.04,539.83 L647.04,539.74 L649.03,539.64 L651.02,539.55 L653.02,539.45 L655.01,539.35 L657.00,539.26 L659.00,539.16 L660.99,539.06 L662.98,538.96 L664.98,538.86 L666.97,538.75 L668.96,538.65 L670.96,538.55 L672.95,538.44 L674.94,538.34 L676.93,538.23 L678.93,538.13 L680.92,538.02 L682.91,537.91 L684.91,537.80 L686.90,537.69 L688.89,537.59 L690.89,537.48 L692.88,537.37 L694.87,537.25 L696.86,537.14 L698.86,537.03 L700.85,536.92 L702.84,536.81 L704.83,536.70 L706.83,536.58 L708.82,536.47 L710.81,536.36 L712.80,536.24 L714.80,536.13 L716.79,536.01 L718.78,535.90 L720.77,535.79 L722.77,535.67 L724.76,535.56 L726.75,535.44 L728.74,535.33 L730.74,535.21 L732.73,535.10 L734.72,534.98 L736.71,534.87 L738.71,534.75 L740.70,534.63 L742.69,534.52 L744.68,534.39 L746.68,534.27 L748.67,534.14 L750.66,534.01 L752.65,533.87 L754.64,533.72 L756.63,533.57 L758.62,533.41 L760.61,533.24 L762.60,533.06 L764.58,532.87 L766.57,532.67 L768.55,532.46 L770.54,532.23 L772.52,532.00 L774.50,531.74 L776.47,531.48 L778.45,531.20 L780.42,530.90 L782.39,530.58 L784.36,530.25 L786.33,529.90 L788.29,529.53 L790.25,529.15 L792.20,528.74 L794.15,528.31 L796.10,527.87 L798.04,527.40 L799.97,526.91 L801.90,526.39 L803.82,525.86 L805.74,525.30 L807.65,524.72 L809.55,524.12 L811.44,523.49 L813.33,522.84 L815.21,522.16 L817.08,521.46 L818.94,520.74 L820.79,519.99 L822.62,519.21 L824.45,518.40 L826.26,517.56 L828.05,516.68 L829.83,515.77 L831.59,514.83 L833.32,513.85 L835.04,512.83 L836.74,511.78 L838.41,510.69 L840.06,509.57 L841.68,508.41 L843.28,507.21 L844.86,505.99 L846.41,504.73 L847.93,503.44 L849.43,502.12 L850.90,500.77 L852.34,499.39 L853.76,497.99 L855.16,496.56 L856.53,495.11 L857.88,493.65 L859.21,492.16 L860.52,490.65 L861.81,489.13 L863.09,487.59 L864.34,486.04 L865.58,484.47 L866.80,482.89 L868.00,481.30 L869.19,479.70 L870.36,478.08 L871.52,476.46 L872.66,474.82 L873.79,473.17 L874.90,471.52 L876.01,469.86 L877.09,468.18 L878.17,466.50 L879.22,464.81 L880.27,463.10 L881.29,461.39 L882.30,459.67 L883.29,457.94 L884.27,456.20 L885.23,454.45 L886.17,452.69 L887.10,450.92 L888.01,449.14 L888.90,447.36 L889.78,445.57 L890.65,443.77 L891.49,441.96 L892.33,440.15 L893.15,438.33 L893.95,436.51 L894.75,434.67 L895.53,432.84 L896.29,430.99 L897.04,429.15 L897.79,427.29 L898.52,425.44 L899.24,423.57 L899.95,421.71 L900.65,419.84 L901.34,417.97 L902.02,416.09 L902.70,414.21 L903.37,412.33 L904.02,410.45 L904.68,408.56 L905.32,406.67 L905.96,404.78 L906.59,402.89 L907.21,400.99 L907.83,399.10 L908.44,397.20 L909.05,395.29 L909.65,393.39 L910.24,391.49 L910.83,389.58 L911.42,387.67 L912.00,385.76 L912.57,383.85 L913.14,381.94 L913.71,380.02 L914.27,378.11 L914.82,376.19 L915.38,374.27 L915.93,372.35 L916.47,370.44 L917.02,368.52 L917.57,366.60 L918.11,364.68 L918.66,362.76 L919.20,360.84 L919.75,358.92 L920.30,357.00 L920.86,355.08 L921.42,353.17 L921.98,351.25 L922.55,349.34 L923.13,347.43 L923.71,345.52 L924.30,343.61 L924.91,341.71 L925.52,339.81 L926.15,337.92 L926.80,336.03 L927.46,334.15 L928.14,332.27 L928.85,330.41 L929.60,328.56 L930.38,326.72 L931.20,324.90" fill="none" stroke="#ff7f00" stroke-width="3" stroke-dasharray="14.8 3.1 2.5 3 2.4 3.4"/>
<path d="M401,191.5H500" stroke="#cc0000" stroke-width="3" fill="none"/>
<text x="517" y="198.5" class="lg">Coventional (Water)</text>
<path d="M401,217.8H500" stroke="#000000" stroke-width="3" stroke-dasharray="21.5 7.7" fill="none"/>
<text x="517" y="224.8" class="lg">Coventional (hnf)</text>
<path d="M401,244.0H500" stroke="#2020ff" stroke-width="3" stroke-dasharray="14.8 14.4" fill="none"/>
<text x="517" y="251.0" class="lg">Grooves (hnf)</text>
<path d="M401,270.2H500" stroke="#00c800" stroke-width="3" stroke-dasharray="14.8 5.3 3.6 5.5" fill="none"/>
<text x="517" y="277.2" class="lg">Teeth (hnf)</text>
<path d="M401,296.5H500" stroke="#ff7f00" stroke-width="3" stroke-dasharray="14.8 3.1 2.5 3 2.4 3.4" fill="none"/>
<text x="517" y="303.5" class="lg">Pin (hnf)</text>
<text x="612.1" y="401.5" class="bl" text-anchor="middle" letter-spacing="0">(a)</text>
<path d="M365.9,682.0V674.0M385.3,682.0V674.0M404.8,682.0V674.0M424.3,682.0V674.0M463.2,682.0V674.0M482.7,682.0V674.0M502.2,682.0V674.0M521.7,682.0V674.0M560.6,682.0V674.0M580.1,682.0V674.0M599.6,682.0V674.0M619.0,682.0V674.0M658.0,682.0V674.0M677.5,682.0V674.0M696.9,682.0V674.0M716.4,682.0V674.0M755.3,682.0V674.0M774.8,682.0V674.0M794.3,682.0V674.0M813.8,682.0V674.0M852.7,682.0V674.0M872.2,682.0V674.0M891.7,682.0V674.0M911.1,682.0V674.0M330.4,663.2H338.9M330.4,644.5H338.9M330.4,625.7H338.9M330.4,607.0H338.9M330.4,569.4H338.9M330.4,550.7H338.9M330.4,531.9H338.9M330.4,513.2H338.9M330.4,475.6H338.9M330.4,456.9H338.9M330.4,438.1H338.9M330.4,419.4H338.9M330.4,381.8H338.9M330.4,363.1H338.9M330.4,344.3H338.9M330.4,325.6H338.9M330.4,288.0H338.9M330.4,269.3H338.9M330.4,250.5H338.9M330.4,231.8H338.9M330.4,194.2H338.9M330.4,175.5H338.9M330.4,156.7H338.9M330.4,138.0H338.9" stroke="#555" stroke-width="1.4" fill="none"/>
<path d="M346.4,682.0V668.5M443.8,682.0V668.5M541.1,682.0V668.5M638.5,682.0V668.5M735.9,682.0V668.5M833.2,682.0V668.5M930.6,682.0V668.5M330.4,588.2H344.4M330.4,494.4H344.4M330.4,400.6H344.4M330.4,306.8H344.4M330.4,213.0H344.4" stroke="#000" stroke-width="3" fill="none"/>
<rect x="330.4" y="119.3" width="616.3" height="562.7" fill="none" stroke="#000" stroke-width="2.5"/>
<text x="321" y="127.1" class="tk" text-anchor="end">301</text>
<text x="321" y="220.9" class="tk" text-anchor="end">300.5</text>
<text x="321" y="314.7" class="tk" text-anchor="end">300</text>
<text x="321" y="408.5" class="tk" text-anchor="end">299.5</text>
<text x="321" y="502.3" class="tk" text-anchor="end">299</text>
<text x="321" y="596.1" class="tk" text-anchor="end">298.5</text>
<text x="321" y="689.9" class="tk" text-anchor="end">298</text>
<text x="346.4" y="704.3" class="tk" text-anchor="middle">0</text>
<text x="443.8" y="704.3" class="tk" text-anchor="middle">600</text>
<text x="541.1" y="704.3" class="tk" text-anchor="middle">1200</text>
<text x="638.5" y="704.3" class="tk" text-anchor="middle">1800</text>
<text x="735.9" y="704.3" class="tk" text-anchor="middle">2400</text>
<text x="833.2" y="704.3" class="tk" text-anchor="middle">3000</text>
<text x="930.6" y="704.3" class="tk" text-anchor="middle">3600</text>
<text transform="translate(638.4,731.1) scale(0.975,1)" class="ax" text-anchor="middle">Time (s)</text>
<text transform="translate(256.4,401.3) rotate(-90) scale(0.98,1)" class="ax" text-anchor="middle">Temperature (K)</text>
<path d="M365.9,759.8V1322.5M385.3,759.8V1322.5M404.8,759.8V1322.5M424.3,759.8V1322.5M463.2,759.8V1322.5M482.7,759.8V1322.5M502.2,759.8V1322.5M521.7,759.8V1322.5M560.6,759.8V1322.5M580.1,759.8V1322.5M599.6,759.8V1322.5M619.0,759.8V1322.5M658.0,759.8V1322.5M677.5,759.8V1322.5M696.9,759.8V1322.5M716.4,759.8V1322.5M755.3,759.8V1322.5M774.8,759.8V1322.5M794.3,759.8V1322.5M813.8,759.8V1322.5M852.7,759.8V1322.5M872.2,759.8V1322.5M891.7,759.8V1322.5M911.1,759.8V1322.5" stroke="#959595" stroke-width="1" stroke-dasharray="1 2" fill="none"/>
<path d="M330.4,1309.1H946.7M330.4,1295.7H946.7M330.4,1282.4H946.7M330.4,1269.0H946.7M330.4,1242.2H946.7M330.4,1228.8H946.7M330.4,1215.5H946.7M330.4,1202.1H946.7M330.4,1175.3H946.7M330.4,1161.9H946.7M330.4,1148.6H946.7M330.4,1135.2H946.7M330.4,1108.4H946.7M330.4,1095.0H946.7M330.4,1081.7H946.7M330.4,1068.3H946.7M330.4,1041.5H946.7M330.4,1028.1H946.7M330.4,1014.8H946.7M330.4,1001.4H946.7M330.4,974.6H946.7M330.4,961.2H946.7M330.4,947.9H946.7M330.4,934.5H946.7M330.4,907.7H946.7M330.4,894.3H946.7M330.4,881.0H946.7M330.4,867.6H946.7M330.4,840.8H946.7M330.4,827.4H946.7M330.4,814.1H946.7M330.4,800.7H946.7M330.4,773.9H946.7" stroke="#959595" stroke-width="1" stroke-dasharray="1 2" fill="none"/>
<path d="M346.4,759.8V1322.5M443.8,759.8V1322.5M541.1,759.8V1322.5M638.5,759.8V1322.5M735.9,759.8V1322.5M833.2,759.8V1322.5M930.6,759.8V1322.5M330.4,1255.6H946.7M330.4,1188.7H946.7M330.4,1121.8H946.7M330.4,1054.9H946.7M330.4,988.0H946.7M330.4,921.1H946.7M330.4,854.2H946.7M330.4,787.3H946.7" stroke="#383838" stroke-width="1.1" fill="none"/>
<rect x="370.8" y="781.8" width="367.8" height="194.7" fill="#fff" stroke="#333" stroke-width="1.5"/>
<rect x="548.6" y="1000.4" width="126.9" height="62.9" fill="#fff" stroke="#333" stroke-width="1.5"/>
<path d="M346.00,1302.60 L346.36,1300.64 L346.72,1298.67 L347.09,1296.71 L347.47,1294.75 L347.85,1292.79 L348.25,1290.84 L348.65,1288.88 L349.07,1286.93 L349.49,1284.98 L349.92,1283.03 L350.35,1281.08 L350.80,1279.14 L351.25,1277.19 L351.72,1275.25 L352.19,1273.31 L352.66,1271.37 L353.15,1269.44 L353.63,1267.50 L354.13,1265.57 L354.62,1263.64 L355.12,1261.70 L355.63,1259.77 L356.13,1257.84 L356.64,1255.91 L357.16,1253.98 L357.67,1252.05 L358.19,1250.13 L358.71,1248.20 L359.23,1246.27 L359.76,1244.35 L360.29,1242.43 L360.82,1240.50 L361.36,1238.58 L361.90,1236.66 L362.44,1234.73 L362.98,1232.81 L363.52,1230.89 L364.07,1228.97 L364.62,1227.06 L365.17,1225.14 L365.72,1223.22 L366.28,1221.30 L366.84,1219.39 L367.41,1217.47 L367.98,1215.56 L368.55,1213.65 L369.13,1211.74 L369.72,1209.83 L370.32,1207.93 L370.92,1206.03 L371.53,1204.13 L372.15,1202.23 L372.78,1200.34 L373.43,1198.45 L374.09,1196.56 L374.76,1194.68 L375.45,1192.81 L376.16,1190.95 L376.89,1189.09 L377.64,1187.24 L378.42,1185.40 L379.22,1183.57 L380.03,1181.75 L380.88,1179.94 L381.74,1178.14 L382.63,1176.35 L383.54,1174.58 L384.47,1172.81 L385.42,1171.06 L386.39,1169.31 L387.37,1167.57 L388.37,1165.84 L389.37,1164.12 L390.38,1162.40 L391.41,1160.69 L392.44,1158.98 L393.49,1157.28 L394.54,1155.58 L395.61,1153.90 L396.69,1152.22 L397.78,1150.55 L398.88,1148.89 L400.00,1147.23 L401.14,1145.59 L402.29,1143.96 L403.46,1142.34 L404.64,1140.74 L405.85,1139.14 L407.07,1137.57 L408.31,1136.01 L409.58,1134.46 L410.86,1132.93 L412.17,1131.42 L413.50,1129.94 L414.85,1128.47 L416.22,1127.02 L417.62,1125.60 L419.05,1124.20 L420.50,1122.83 L421.98,1121.49 L423.48,1120.18 L425.01,1118.90 L426.57,1117.65 L428.16,1116.44 L429.77,1115.27 L431.41,1114.13 L433.08,1113.04 L434.78,1111.98 L436.50,1110.97 L438.24,1110.00 L440.01,1109.08 L441.80,1108.20 L443.62,1107.36 L445.45,1106.57 L447.30,1105.82 L449.16,1105.11 L451.04,1104.44 L452.93,1103.81 L454.84,1103.21 L456.76,1102.65 L458.68,1102.13 L460.62,1101.63 L462.56,1101.17 L464.50,1100.73 L466.46,1100.31 L468.41,1099.93 L470.38,1099.57 L472.34,1099.23 L474.32,1098.92 L476.29,1098.63 L478.27,1098.37 L480.25,1098.13 L482.23,1097.91 L484.22,1097.70 L486.21,1097.52 L488.20,1097.36 L490.19,1097.21 L492.18,1097.08 L494.17,1096.96 L496.16,1096.86 L498.16,1096.78 L500.15,1096.70 L502.15,1096.64 L504.14,1096.58 L506.14,1096.54 L508.13,1096.50 L510.13,1096.47 L512.12,1096.45 L514.12,1096.43 L516.12,1096.41 L518.11,1096.40 L520.11,1096.39 L522.10,1096.38 L524.10,1096.37 L526.10,1096.36 L528.09,1096.35 L530.09,1096.34 L532.08,1096.32 L534.08,1096.31 L536.07,1096.29 L538.07,1096.27 L540.07,1096.24 L542.06,1096.22 L544.06,1096.19 L546.05,1096.17 L548.05,1096.14 L550.04,1096.10 L552.04,1096.07 L554.04,1096.03 L556.03,1095.99 L558.03,1095.95 L560.02,1095.91 L562.02,1095.87 L564.01,1095.82 L566.01,1095.77 L568.00,1095.72 L570.00,1095.66 L571.99,1095.60 L573.99,1095.55 L575.98,1095.48 L577.98,1095.42 L579.97,1095.35 L581.97,1095.28 L583.96,1095.21 L585.96,1095.14 L587.95,1095.06 L589.95,1094.98 L591.94,1094.89 L593.93,1094.81 L595.93,1094.72 L597.92,1094.63 L599.92,1094.53 L601.91,1094.44 L603.90,1094.34 L605.90,1094.23 L607.89,1094.13 L609.88,1094.02 L611.87,1093.91 L613.87,1093.79 L615.86,1093.67 L617.85,1093.55 L619.84,1093.42 L621.83,1093.30 L623.83,1093.16 L625.82,1093.03 L627.81,1092.89 L629.80,1092.75 L631.79,1092.60 L633.78,1092.46 L635.77,1092.31 L637.76,1092.15 L639.75,1092.00 L641.74,1091.84 L643.73,1091.68 L645.72,1091.52 L647.71,1091.35 L649.70,1091.19 L651.69,1091.02 L653.67,1090.85 L655.66,1090.67 L657.65,1090.50 L659.64,1090.32 L661.63,1090.14 L663.61,1089.97 L665.60,1089.78 L667.59,1089.60 L669.58,1089.42 L671.56,1089.23 L673.55,1089.05 L675.54,1088.86 L677.53,1088.67 L679.51,1088.48 L681.50,1088.29 L683.49,1088.10 L685.47,1087.91 L687.46,1087.72 L689.45,1087.53 L691.43,1087.34 L693.42,1087.15 L695.41,1086.96 L697.39,1086.76 L699.38,1086.57 L701.37,1086.38 L703.35,1086.19 L705.34,1086.00 L707.33,1085.81 L709.31,1085.62 L711.30,1085.43 L713.29,1085.24 L715.27,1085.05 L717.26,1084.86 L719.25,1084.68 L721.24,1084.49 L723.22,1084.31 L725.21,1084.12 L727.20,1083.94 L729.19,1083.76 L731.17,1083.58 L733.16,1083.41 L735.15,1083.23 L737.14,1083.06 L739.13,1082.88 L741.12,1082.71 L743.10,1082.54 L745.09,1082.36 L747.08,1082.18 L749.07,1082.00 L751.05,1081.81 L753.04,1081.61 L755.02,1081.40 L757.01,1081.19 L758.99,1080.96 L760.97,1080.72 L762.95,1080.47 L764.93,1080.21 L766.91,1079.93 L768.88,1079.64 L770.85,1079.33 L772.82,1079.00 L774.79,1078.65 L776.75,1078.28 L778.71,1077.89 L780.66,1077.48 L782.61,1077.05 L784.55,1076.59 L786.49,1076.11 L788.42,1075.61 L790.34,1075.08 L792.26,1074.52 L794.17,1073.94 L796.07,1073.32 L797.96,1072.69 L799.84,1072.02 L801.71,1071.33 L803.57,1070.60 L805.42,1069.85 L807.26,1069.07 L809.09,1068.27 L810.90,1067.43 L812.70,1066.56 L814.48,1065.67 L816.25,1064.75 L818.01,1063.80 L819.75,1062.82 L821.47,1061.81 L823.17,1060.77 L824.86,1059.70 L826.52,1058.60 L828.16,1057.46 L829.78,1056.29 L831.37,1055.09 L832.94,1053.86 L834.49,1052.60 L836.01,1051.31 L837.50,1049.98 L838.97,1048.63 L840.41,1047.25 L841.83,1045.84 L843.22,1044.41 L844.58,1042.95 L845.92,1041.47 L847.23,1039.97 L848.52,1038.44 L849.78,1036.89 L851.02,1035.33 L852.24,1033.75 L853.43,1032.15 L854.60,1030.53 L855.75,1028.90 L856.88,1027.25 L857.98,1025.59 L859.07,1023.92 L860.14,1022.23 L861.19,1020.53 L862.22,1018.82 L863.23,1017.10 L864.23,1015.38 L865.21,1013.64 L866.17,1011.89 L867.12,1010.13 L868.05,1008.37 L868.97,1006.59 L869.87,1004.81 L870.76,1003.03 L871.64,1001.23 L872.50,999.44 L873.35,997.63 L874.19,995.82 L875.01,994.00 L875.83,992.18 L876.63,990.35 L877.42,988.52 L878.20,986.68 L878.97,984.84 L879.73,983.00 L880.48,981.15 L881.22,979.29 L881.95,977.43 L882.67,975.57 L883.39,973.71 L884.09,971.84 L884.78,969.97 L885.47,968.09 L886.14,966.22 L886.81,964.34 L887.47,962.45 L888.12,960.57 L888.77,958.68 L889.41,956.79 L890.04,954.89 L890.66,953.00 L891.28,951.10 L891.88,949.20 L892.49,947.29 L893.08,945.39 L893.67,943.48 L894.26,941.57 L894.83,939.66 L895.41,937.75 L895.97,935.84 L896.53,933.92 L897.09,932.00 L897.63,930.09 L898.18,928.16 L898.71,926.24 L899.25,924.32 L899.77,922.39 L900.30,920.47 L900.81,918.54 L901.33,916.61 L901.83,914.68 L902.34,912.75 L902.84,910.82 L903.33,908.88 L903.82,906.95 L904.30,905.01 L904.78,903.07 L905.26,901.14 L905.73,899.20 L906.20,897.26 L906.67,895.32 L907.13,893.37 L907.58,891.43 L908.03,889.49 L908.48,887.54 L908.93,885.60 L909.37,883.65 L909.81,881.70 L910.24,879.75 L910.67,877.81 L911.10,875.86 L911.52,873.91 L911.94,871.95 L912.36,870.00 L912.78,868.05 L913.19,866.10 L913.60,864.14 L914.00,862.19 L914.40,860.23 L914.80,858.28 L915.20,856.32 L915.59,854.37 L915.98,852.41 L916.37,850.45 L916.76,848.49 L917.14,846.53 L917.52,844.58 L917.90,842.62 L918.28,840.66 L918.66,838.70 L919.03,836.74 L919.41,834.77 L919.78,832.81 L920.15,830.85 L920.52,828.89 L920.88,826.93 L921.25,824.97 L921.61,823.00 L921.98,821.04 L922.34,819.08 L922.70,817.12 L923.06,815.15 L923.42,813.19 L923.78,811.23 L924.14,809.26 L924.49,807.30 L924.85,805.34 L925.21,803.37 L925.56,801.41 L925.92,799.44 L926.27,797.48 L926.62,795.52 L926.98,793.55 L927.33,791.59 L927.68,789.62 L928.03,787.66 L928.39,785.69 L928.74,783.73 L929.09,781.76 L929.44,779.80 L929.80,777.83 L930.15,775.87 L930.50,773.91" fill="none" stroke="#cc0000" stroke-width="3"/>
<path d="M346.00,1302.60 L346.35,1300.63 L346.72,1298.67 L347.08,1296.71 L347.46,1294.74 L347.85,1292.78 L348.24,1290.83 L348.65,1288.87 L349.06,1286.91 L349.48,1284.96 L349.91,1283.01 L350.35,1281.06 L350.80,1279.12 L351.26,1277.17 L351.72,1275.23 L352.19,1273.29 L352.67,1271.35 L353.16,1269.41 L353.65,1267.47 L354.14,1265.54 L354.64,1263.60 L355.14,1261.67 L355.65,1259.74 L356.15,1257.80 L356.66,1255.87 L357.17,1253.94 L357.69,1252.01 L358.21,1250.08 L358.73,1248.15 L359.25,1246.23 L359.77,1244.30 L360.30,1242.37 L360.83,1240.45 L361.37,1238.52 L361.90,1236.60 L362.44,1234.67 L362.99,1232.75 L363.53,1230.83 L364.08,1228.91 L364.63,1226.99 L365.18,1225.07 L365.74,1223.15 L366.30,1221.23 L366.86,1219.31 L367.43,1217.40 L368.00,1215.49 L368.58,1213.57 L369.16,1211.66 L369.75,1209.76 L370.35,1207.85 L370.96,1205.95 L371.57,1204.05 L372.20,1202.15 L372.84,1200.25 L373.48,1198.36 L374.14,1196.48 L374.82,1194.60 L375.51,1192.73 L376.22,1190.86 L376.95,1189.00 L377.70,1187.15 L378.47,1185.30 L379.26,1183.47 L380.08,1181.65 L380.91,1179.83 L381.77,1178.03 L382.65,1176.23 L383.55,1174.45 L384.48,1172.68 L385.42,1170.92 L386.39,1169.17 L387.37,1167.43 L388.37,1165.71 L389.39,1163.99 L390.42,1162.28 L391.47,1160.57 L392.53,1158.88 L393.61,1157.20 L394.70,1155.53 L395.81,1153.87 L396.94,1152.22 L398.08,1150.58 L399.24,1148.95 L400.42,1147.34 L401.61,1145.74 L402.83,1144.15 L404.06,1142.58 L405.31,1141.02 L406.58,1139.48 L407.87,1137.96 L409.19,1136.45 L410.52,1134.96 L411.87,1133.49 L413.25,1132.05 L414.65,1130.62 L416.07,1129.22 L417.52,1127.84 L418.99,1126.49 L420.49,1125.17 L422.01,1123.88 L423.56,1122.62 L425.14,1121.39 L426.75,1120.21 L428.38,1119.06 L430.04,1117.95 L431.73,1116.88 L433.45,1115.86 L435.19,1114.88 L436.96,1113.95 L438.75,1113.06 L440.56,1112.22 L442.39,1111.42 L444.24,1110.66 L446.10,1109.95 L447.99,1109.28 L449.88,1108.65 L451.79,1108.06 L453.71,1107.50 L455.63,1106.98 L457.57,1106.48 L459.51,1106.02 L461.46,1105.58 L463.41,1105.16 L465.37,1104.77 L467.34,1104.39 L469.30,1104.04 L471.27,1103.72 L473.25,1103.41 L475.22,1103.12 L477.20,1102.85 L479.19,1102.60 L481.17,1102.37 L483.16,1102.16 L485.14,1101.96 L487.13,1101.78 L489.12,1101.62 L491.12,1101.47 L493.11,1101.33 L495.10,1101.21 L497.10,1101.09 L499.09,1100.99 L501.09,1100.91 L503.08,1100.83 L505.08,1100.76 L507.08,1100.69 L509.07,1100.64 L511.07,1100.59 L513.07,1100.55 L515.07,1100.52 L517.06,1100.49 L519.06,1100.46 L521.06,1100.43 L523.06,1100.41 L525.05,1100.39 L527.05,1100.37 L529.05,1100.35 L531.05,1100.33 L533.04,1100.31 L535.04,1100.29 L537.04,1100.27 L539.04,1100.25 L541.03,1100.23 L543.03,1100.21 L545.03,1100.19 L547.03,1100.17 L549.02,1100.15 L551.02,1100.13 L553.02,1100.10 L555.02,1100.08 L557.01,1100.05 L559.01,1100.03 L561.01,1100.00 L563.01,1099.97 L565.00,1099.94 L567.00,1099.90 L569.00,1099.87 L570.99,1099.83 L572.99,1099.79 L574.99,1099.75 L576.99,1099.71 L578.98,1099.67 L580.98,1099.62 L582.98,1099.57 L584.97,1099.52 L586.97,1099.46 L588.97,1099.40 L590.97,1099.34 L592.96,1099.28 L594.96,1099.21 L596.95,1099.14 L598.95,1099.06 L600.95,1098.98 L602.94,1098.90 L604.94,1098.82 L606.93,1098.73 L608.93,1098.63 L610.93,1098.54 L612.92,1098.44 L614.92,1098.33 L616.91,1098.22 L618.90,1098.10 L620.90,1097.98 L622.89,1097.86 L624.89,1097.73 L626.88,1097.60 L628.87,1097.46 L630.86,1097.32 L632.86,1097.17 L634.85,1097.02 L636.84,1096.87 L638.83,1096.71 L640.82,1096.55 L642.81,1096.38 L644.80,1096.21 L646.79,1096.04 L648.78,1095.87 L650.77,1095.69 L652.76,1095.51 L654.75,1095.32 L656.74,1095.14 L658.73,1094.95 L660.72,1094.76 L662.71,1094.57 L664.70,1094.38 L666.68,1094.18 L668.67,1093.98 L670.66,1093.78 L672.65,1093.58 L674.63,1093.38 L676.62,1093.18 L678.61,1092.98 L680.60,1092.77 L682.58,1092.57 L684.57,1092.36 L686.56,1092.16 L688.54,1091.95 L690.53,1091.75 L692.52,1091.54 L694.51,1091.33 L696.49,1091.13 L698.48,1090.92 L700.47,1090.72 L702.45,1090.52 L704.44,1090.31 L706.43,1090.11 L708.42,1089.91 L710.40,1089.71 L712.39,1089.52 L714.38,1089.32 L716.37,1089.13 L718.36,1088.94 L720.34,1088.75 L722.33,1088.56 L724.32,1088.37 L726.31,1088.19 L728.30,1088.01 L730.29,1087.83 L732.28,1087.66 L734.27,1087.48 L736.26,1087.31 L738.25,1087.15 L740.24,1086.99 L742.23,1086.82 L744.23,1086.66 L746.22,1086.49 L748.21,1086.32 L750.20,1086.15 L752.19,1085.97 L754.17,1085.78 L756.16,1085.58 L758.15,1085.38 L760.14,1085.16 L762.12,1084.93 L764.10,1084.69 L766.08,1084.43 L768.06,1084.16 L770.04,1083.87 L772.01,1083.56 L773.98,1083.23 L775.95,1082.88 L777.91,1082.52 L779.87,1082.12 L781.83,1081.71 L783.78,1081.27 L785.72,1080.80 L787.65,1080.31 L789.58,1079.80 L791.51,1079.25 L793.42,1078.68 L795.32,1078.08 L797.22,1077.45 L799.11,1076.79 L800.98,1076.10 L802.84,1075.38 L804.70,1074.63 L806.53,1073.85 L808.36,1073.04 L810.17,1072.20 L811.97,1071.33 L813.75,1070.42 L815.52,1069.49 L817.27,1068.53 L819.01,1067.54 L820.73,1066.53 L822.43,1065.48 L824.11,1064.40 L825.77,1063.29 L827.41,1062.15 L829.03,1060.98 L830.63,1059.78 L832.20,1058.55 L833.76,1057.30 L835.29,1056.01 L836.79,1054.70 L838.28,1053.36 L839.74,1052.00 L841.17,1050.61 L842.59,1049.20 L843.98,1047.77 L845.35,1046.31 L846.69,1044.84 L848.02,1043.34 L849.32,1041.83 L850.60,1040.29 L851.86,1038.74 L853.10,1037.17 L854.31,1035.59 L855.50,1033.98 L856.67,1032.37 L857.82,1030.73 L858.95,1029.08 L860.06,1027.42 L861.14,1025.74 L862.21,1024.05 L863.25,1022.35 L864.28,1020.64 L865.29,1018.91 L866.28,1017.18 L867.25,1015.43 L868.20,1013.68 L869.14,1011.91 L870.05,1010.14 L870.96,1008.35 L871.84,1006.56 L872.72,1004.77 L873.57,1002.96 L874.41,1001.15 L875.24,999.33 L876.06,997.51 L876.86,995.68 L877.65,993.85 L878.43,992.01 L879.19,990.16 L879.95,988.31 L880.69,986.46 L881.43,984.60 L882.15,982.74 L882.87,980.87 L883.57,979.00 L884.27,977.13 L884.96,975.26 L885.64,973.38 L886.31,971.50 L886.97,969.61 L887.63,967.73 L888.28,965.84 L888.92,963.94 L889.55,962.05 L890.18,960.15 L890.80,958.25 L891.41,956.35 L892.02,954.45 L892.62,952.54 L893.22,950.64 L893.80,948.73 L894.39,946.82 L894.97,944.91 L895.54,942.99 L896.11,941.08 L896.67,939.16 L897.22,937.24 L897.77,935.32 L898.32,933.40 L898.86,931.48 L899.39,929.55 L899.92,927.62 L900.45,925.70 L900.97,923.77 L901.48,921.84 L901.99,919.91 L902.50,917.97 L903.00,916.04 L903.49,914.10 L903.98,912.17 L904.47,910.23 L904.95,908.29 L905.42,906.35 L905.89,904.41 L906.36,902.47 L906.82,900.52 L907.28,898.58 L907.73,896.63 L908.18,894.69 L908.63,892.74 L909.07,890.79 L909.51,888.84 L909.94,886.89 L910.37,884.94 L910.80,882.99 L911.22,881.04 L911.64,879.08 L912.05,877.13 L912.46,875.17 L912.87,873.22 L913.27,871.26 L913.67,869.31 L914.07,867.35 L914.47,865.39 L914.86,863.43 L915.24,861.47 L915.63,859.51 L916.01,857.55 L916.39,855.59 L916.77,853.63 L917.15,851.67 L917.53,849.70 L917.90,847.74 L918.28,845.78 L918.66,843.82 L919.03,841.86 L919.41,839.89 L919.78,837.93 L920.16,835.97 L920.54,834.01 L920.92,832.05 L921.30,830.09 L921.68,828.13 L922.07,826.17 L922.46,824.21 L922.85,822.25 L923.25,820.29 L923.64,818.33 L924.05,816.38 L924.45,814.42 L924.87,812.47 L925.29,810.51 L925.71,808.56 L926.14,806.61 L926.58,804.66 L927.03,802.72 L927.49,800.77 L927.96,798.83 L928.45,796.89 L928.95,794.96 L929.46,793.03 L930.00,791.10" fill="none" stroke="#000000" stroke-width="3" stroke-dasharray="21.5 7.7"/>
<path d="M346.00,1302.60 L346.36,1300.64 L346.74,1298.67 L347.11,1296.71 L347.50,1294.75 L347.89,1292.80 L348.29,1290.84 L348.69,1288.88 L349.10,1286.93 L349.52,1284.98 L349.95,1283.03 L350.38,1281.08 L350.82,1279.13 L351.27,1277.18 L351.72,1275.24 L352.18,1273.30 L352.65,1271.35 L353.13,1269.42 L353.61,1267.48 L354.10,1265.54 L354.59,1263.61 L355.09,1261.67 L355.59,1259.74 L356.10,1257.81 L356.61,1255.88 L357.13,1253.95 L357.65,1252.02 L358.17,1250.10 L358.70,1248.17 L359.24,1246.25 L359.77,1244.32 L360.31,1242.40 L360.85,1240.48 L361.40,1238.56 L361.94,1236.63 L362.49,1234.71 L363.04,1232.79 L363.59,1230.87 L364.13,1228.95 L364.68,1227.03 L365.23,1225.11 L365.78,1223.19 L366.33,1221.27 L366.88,1219.36 L367.44,1217.44 L368.00,1215.52 L368.56,1213.60 L369.13,1211.69 L369.70,1209.78 L370.28,1207.87 L370.87,1205.96 L371.47,1204.05 L372.07,1202.15 L372.69,1200.25 L373.33,1198.36 L373.98,1196.47 L374.64,1194.59 L375.33,1192.71 L376.05,1190.85 L376.79,1188.99 L377.56,1187.15 L378.36,1185.32 L379.19,1183.51 L380.05,1181.71 L380.95,1179.92 L381.88,1178.16 L382.84,1176.40 L383.82,1174.67 L384.84,1172.95 L385.87,1171.24 L386.93,1169.54 L387.99,1167.85 L389.06,1166.16 L390.13,1164.48 L391.20,1162.79 L392.27,1161.11 L393.36,1159.43 L394.45,1157.76 L395.54,1156.09 L396.65,1154.43 L397.77,1152.78 L398.90,1151.13 L400.05,1149.50 L401.22,1147.88 L402.40,1146.27 L403.61,1144.68 L404.85,1143.12 L406.12,1141.57 L407.42,1140.05 L408.74,1138.56 L410.10,1137.10 L411.50,1135.67 L412.92,1134.27 L414.38,1132.91 L415.87,1131.58 L417.39,1130.28 L418.94,1129.02 L420.52,1127.80 L422.13,1126.62 L423.76,1125.47 L425.42,1124.36 L427.10,1123.28 L428.81,1122.24 L430.53,1121.23 L432.27,1120.26 L434.03,1119.32 L435.81,1118.41 L437.61,1117.54 L439.42,1116.70 L441.25,1115.90 L443.10,1115.14 L444.95,1114.41 L446.83,1113.71 L448.71,1113.05 L450.61,1112.43 L452.51,1111.83 L454.43,1111.27 L456.36,1110.74 L458.29,1110.24 L460.23,1109.77 L462.18,1109.33 L464.13,1108.92 L466.09,1108.53 L468.05,1108.17 L470.02,1107.84 L472.00,1107.53 L473.97,1107.25 L475.95,1106.99 L477.93,1106.75 L479.92,1106.53 L481.91,1106.34 L483.90,1106.16 L485.89,1106.00 L487.88,1105.87 L489.87,1105.75 L491.87,1105.64 L493.86,1105.55 L495.86,1105.47 L497.85,1105.41 L499.85,1105.36 L501.84,1105.32 L503.84,1105.29 L505.84,1105.27 L507.84,1105.26 L509.83,1105.26 L511.83,1105.26 L513.83,1105.26 L515.82,1105.27 L517.82,1105.29 L519.82,1105.30 L521.81,1105.32 L523.81,1105.34 L525.81,1105.35 L527.80,1105.36 L529.80,1105.38 L531.80,1105.39 L533.79,1105.39 L535.79,1105.40 L537.79,1105.40 L539.78,1105.41 L541.78,1105.41 L543.78,1105.40 L545.77,1105.40 L547.77,1105.39 L549.77,1105.39 L551.77,1105.37 L553.76,1105.36 L555.76,1105.35 L557.76,1105.33 L559.75,1105.31 L561.75,1105.28 L563.75,1105.26 L565.74,1105.23 L567.74,1105.20 L569.74,1105.17 L571.73,1105.13 L573.73,1105.09 L575.73,1105.05 L577.72,1105.00 L579.72,1104.95 L581.71,1104.90 L583.71,1104.85 L585.71,1104.79 L587.70,1104.73 L589.70,1104.66 L591.69,1104.60 L593.69,1104.52 L595.68,1104.45 L597.68,1104.37 L599.68,1104.29 L601.67,1104.21 L603.67,1104.12 L605.66,1104.02 L607.65,1103.93 L609.65,1103.83 L611.64,1103.72 L613.64,1103.62 L615.63,1103.50 L617.62,1103.39 L619.62,1103.27 L621.61,1103.14 L623.60,1103.02 L625.60,1102.88 L627.59,1102.75 L629.58,1102.61 L631.57,1102.46 L633.56,1102.32 L635.55,1102.17 L637.54,1102.01 L639.54,1101.86 L641.53,1101.70 L643.52,1101.53 L645.51,1101.37 L647.50,1101.20 L649.49,1101.03 L651.47,1100.86 L653.46,1100.68 L655.45,1100.50 L657.44,1100.32 L659.43,1100.14 L661.42,1099.96 L663.41,1099.77 L665.40,1099.59 L667.38,1099.40 L669.37,1099.21 L671.36,1099.02 L673.35,1098.83 L675.33,1098.64 L677.32,1098.44 L679.31,1098.25 L681.30,1098.06 L683.28,1097.86 L685.27,1097.67 L687.26,1097.47 L689.25,1097.28 L691.23,1097.09 L693.22,1096.89 L695.21,1096.70 L697.20,1096.50 L699.18,1096.31 L701.17,1096.12 L703.16,1095.93 L705.15,1095.74 L707.13,1095.55 L709.12,1095.37 L711.11,1095.18 L713.10,1095.00 L715.09,1094.81 L717.08,1094.63 L719.07,1094.45 L721.05,1094.28 L723.04,1094.10 L725.03,1093.93 L727.02,1093.76 L729.01,1093.59 L731.00,1093.43 L732.99,1093.27 L734.98,1093.11 L736.97,1092.95 L738.96,1092.80 L740.96,1092.65 L742.95,1092.50 L744.94,1092.34 L746.93,1092.19 L748.92,1092.03 L750.91,1091.86 L752.90,1091.69 L754.89,1091.51 L756.88,1091.32 L758.86,1091.12 L760.85,1090.91 L762.83,1090.68 L764.81,1090.44 L766.80,1090.19 L768.77,1089.92 L770.75,1089.63 L772.72,1089.33 L774.69,1089.00 L776.66,1088.65 L778.62,1088.28 L780.58,1087.89 L782.53,1087.47 L784.48,1087.03 L786.42,1086.56 L788.36,1086.07 L790.28,1085.55 L792.20,1085.00 L794.11,1084.42 L796.02,1083.81 L797.91,1083.17 L799.79,1082.51 L801.66,1081.81 L803.52,1081.08 L805.37,1080.32 L807.20,1079.53 L809.02,1078.71 L810.83,1077.86 L812.62,1076.98 L814.40,1076.07 L816.16,1075.13 L817.91,1074.16 L819.64,1073.16 L821.34,1072.13 L823.03,1071.06 L824.70,1069.96 L826.34,1068.83 L827.96,1067.65 L829.55,1066.45 L831.11,1065.20 L832.64,1063.92 L834.15,1062.61 L835.62,1061.26 L837.07,1059.89 L838.48,1058.48 L839.87,1057.04 L841.22,1055.57 L842.55,1054.08 L843.85,1052.56 L845.12,1051.02 L846.36,1049.46 L847.58,1047.88 L848.76,1046.27 L849.93,1044.65 L851.07,1043.01 L852.18,1041.35 L853.28,1039.68 L854.35,1038.00 L855.41,1036.31 L856.46,1034.60 L857.48,1032.89 L858.50,1031.17 L859.50,1029.44 L860.49,1027.71 L861.46,1025.97 L862.43,1024.22 L863.38,1022.47 L864.33,1020.71 L865.27,1018.95 L866.20,1017.18 L867.12,1015.41 L868.04,1013.63 L868.95,1011.85 L869.85,1010.07 L870.75,1008.29 L871.64,1006.50 L872.53,1004.71 L873.41,1002.92 L874.29,1001.13 L875.16,999.33 L876.03,997.54 L876.89,995.74 L877.75,993.93 L878.59,992.12 L879.43,990.31 L880.26,988.49 L881.08,986.67 L881.89,984.85 L882.69,983.02 L883.47,981.18 L884.25,979.34 L885.01,977.50 L885.77,975.65 L886.51,973.79 L887.23,971.93 L887.95,970.07 L888.66,968.20 L889.35,966.33 L890.03,964.45 L890.71,962.57 L891.37,960.69 L892.01,958.80 L892.65,956.91 L893.28,955.01 L893.90,953.11 L894.50,951.21 L895.10,949.30 L895.69,947.39 L896.27,945.48 L896.84,943.57 L897.40,941.65 L897.95,939.74 L898.50,937.81 L899.04,935.89 L899.57,933.97 L900.10,932.04 L900.62,930.11 L901.14,928.19 L901.65,926.25 L902.15,924.32 L902.66,922.39 L903.15,920.46 L903.64,918.52 L904.13,916.58 L904.61,914.65 L905.09,912.71 L905.56,910.77 L906.04,908.83 L906.50,906.89 L906.97,904.94 L907.43,903.00 L907.88,901.06 L908.34,899.11 L908.79,897.17 L909.24,895.22 L909.68,893.27 L910.13,891.33 L910.57,889.38 L911.01,887.43 L911.44,885.48 L911.87,883.53 L912.31,881.58 L912.73,879.63 L913.16,877.68 L913.58,875.73 L914.01,873.78 L914.43,871.83 L914.85,869.87 L915.26,867.92 L915.68,865.97 L916.09,864.02 L916.51,862.06 L916.92,860.11 L917.33,858.15 L917.74,856.20 L918.15,854.25 L918.56,852.29 L918.97,850.34 L919.38,848.38 L919.78,846.43 L920.19,844.47 L920.60,842.52 L921.01,840.56 L921.42,838.61 L921.83,836.66 L922.24,834.70 L922.66,832.75 L923.07,830.79 L923.49,828.84 L923.90,826.89 L924.32,824.94 L924.74,822.98 L925.16,821.03 L925.59,819.08 L926.01,817.13 L926.44,815.18 L926.88,813.23 L927.31,811.28 L927.75,809.33 L928.19,807.38 L928.64,805.44 L929.09,803.49 L929.54,801.55 L930.00,799.61" fill="none" stroke="#2020ff" stroke-width="3" stroke-dasharray="14.8 14.4"/>
<path d="M346.00,1302.60 L346.33,1300.63 L346.66,1298.66 L347.01,1296.69 L347.37,1294.73 L347.74,1292.77 L348.13,1290.81 L348.53,1288.85 L348.94,1286.90 L349.37,1284.95 L349.81,1283.00 L350.27,1281.05 L350.74,1279.11 L351.22,1277.17 L351.71,1275.24 L352.22,1273.30 L352.72,1271.37 L353.24,1269.44 L353.75,1267.51 L354.27,1265.58 L354.78,1263.65 L355.28,1261.72 L355.78,1259.79 L356.28,1257.85 L356.78,1255.92 L357.27,1253.98 L357.76,1252.05 L358.26,1250.11 L358.75,1248.18 L359.25,1246.24 L359.75,1244.31 L360.25,1242.37 L360.75,1240.44 L361.26,1238.51 L361.77,1236.58 L362.30,1234.65 L362.83,1232.73 L363.36,1230.80 L363.91,1228.88 L364.48,1226.97 L365.05,1225.05 L365.65,1223.15 L366.25,1221.24 L366.88,1219.34 L367.51,1217.45 L368.17,1215.57 L368.84,1213.68 L369.53,1211.81 L370.23,1209.94 L370.95,1208.08 L371.69,1206.22 L372.44,1204.37 L373.20,1202.52 L373.98,1200.68 L374.77,1198.85 L375.57,1197.02 L376.38,1195.19 L377.20,1193.37 L378.03,1191.55 L378.86,1189.74 L379.71,1187.93 L380.57,1186.13 L381.44,1184.33 L382.32,1182.54 L383.22,1180.75 L384.13,1178.98 L385.05,1177.21 L385.99,1175.44 L386.95,1173.69 L387.92,1171.95 L388.92,1170.21 L389.93,1168.49 L390.96,1166.78 L392.02,1165.09 L393.10,1163.41 L394.20,1161.74 L395.33,1160.09 L396.48,1158.46 L397.66,1156.85 L398.87,1155.26 L400.10,1153.69 L401.36,1152.14 L402.65,1150.62 L403.98,1149.12 L405.33,1147.65 L406.72,1146.21 L408.14,1144.81 L409.59,1143.44 L411.08,1142.10 L412.59,1140.80 L414.14,1139.54 L415.72,1138.32 L417.34,1137.14 L418.98,1136.00 L420.65,1134.91 L422.34,1133.85 L424.06,1132.84 L425.80,1131.86 L427.57,1130.93 L429.35,1130.02 L431.15,1129.16 L432.97,1128.33 L434.80,1127.54 L436.65,1126.79 L438.52,1126.07 L440.39,1125.39 L442.28,1124.74 L444.19,1124.13 L446.10,1123.56 L448.02,1123.02 L449.95,1122.51 L451.89,1122.04 L453.84,1121.60 L455.80,1121.18 L457.76,1120.80 L459.72,1120.44 L461.69,1120.11 L463.66,1119.80 L465.64,1119.52 L467.62,1119.26 L469.61,1119.02 L471.59,1118.81 L473.58,1118.61 L475.57,1118.44 L477.56,1118.29 L479.55,1118.15 L481.55,1118.03 L483.54,1117.93 L485.54,1117.84 L487.53,1117.77 L489.53,1117.72 L491.53,1117.67 L493.52,1117.64 L495.52,1117.61 L497.52,1117.60 L499.52,1117.60 L501.51,1117.60 L503.51,1117.61 L505.51,1117.63 L507.50,1117.65 L509.50,1117.68 L511.50,1117.71 L513.50,1117.74 L515.49,1117.77 L517.49,1117.81 L519.49,1117.84 L521.48,1117.87 L523.48,1117.90 L525.48,1117.92 L527.48,1117.94 L529.47,1117.96 L531.47,1117.97 L533.47,1117.98 L535.47,1117.98 L537.46,1117.98 L539.46,1117.97 L541.46,1117.97 L543.45,1117.95 L545.45,1117.94 L547.45,1117.92 L549.45,1117.89 L551.44,1117.87 L553.44,1117.83 L555.44,1117.80 L557.43,1117.76 L559.43,1117.72 L561.43,1117.68 L563.43,1117.63 L565.42,1117.58 L567.42,1117.52 L569.41,1117.46 L571.41,1117.40 L573.41,1117.34 L575.40,1117.27 L577.40,1117.20 L579.40,1117.13 L581.39,1117.06 L583.39,1116.98 L585.38,1116.90 L587.38,1116.82 L589.37,1116.73 L591.37,1116.64 L593.37,1116.55 L595.36,1116.46 L597.36,1116.36 L599.35,1116.27 L601.35,1116.17 L603.34,1116.07 L605.33,1115.96 L607.33,1115.86 L609.32,1115.75 L611.32,1115.64 L613.31,1115.53 L615.31,1115.42 L617.30,1115.30 L619.29,1115.19 L621.29,1115.07 L623.28,1114.95 L625.28,1114.83 L627.27,1114.71 L629.26,1114.58 L631.26,1114.46 L633.25,1114.33 L635.24,1114.20 L637.24,1114.07 L639.23,1113.94 L641.22,1113.81 L643.21,1113.67 L645.21,1113.54 L647.20,1113.40 L649.19,1113.26 L651.19,1113.12 L653.18,1112.98 L655.17,1112.83 L657.16,1112.69 L659.15,1112.54 L661.15,1112.39 L663.14,1112.24 L665.13,1112.09 L667.12,1111.94 L669.11,1111.78 L671.10,1111.63 L673.09,1111.47 L675.08,1111.31 L677.08,1111.15 L679.07,1110.99 L681.06,1110.82 L683.05,1110.66 L685.04,1110.49 L687.03,1110.32 L689.02,1110.15 L691.01,1109.98 L693.00,1109.80 L694.99,1109.63 L696.98,1109.45 L698.97,1109.27 L700.96,1109.09 L702.94,1108.91 L704.93,1108.73 L706.92,1108.54 L708.91,1108.36 L710.90,1108.17 L712.89,1107.98 L714.88,1107.78 L716.86,1107.59 L718.85,1107.40 L720.84,1107.20 L722.83,1107.00 L724.81,1106.80 L726.80,1106.60 L728.79,1106.40 L730.77,1106.19 L732.76,1105.98 L734.75,1105.77 L736.73,1105.56 L738.72,1105.35 L740.71,1105.14 L742.69,1104.92 L744.68,1104.70 L746.66,1104.47 L748.64,1104.23 L750.63,1104.00 L752.61,1103.75 L754.59,1103.49 L756.57,1103.23 L758.55,1102.96 L760.53,1102.67 L762.50,1102.38 L764.47,1102.08 L766.45,1101.76 L768.42,1101.43 L770.38,1101.09 L772.35,1100.73 L774.31,1100.36 L776.27,1099.97 L778.23,1099.57 L780.18,1099.15 L782.13,1098.71 L784.08,1098.26 L786.02,1097.79 L787.95,1097.30 L789.88,1096.79 L791.81,1096.26 L793.73,1095.71 L795.64,1095.14 L797.55,1094.55 L799.45,1093.94 L801.35,1093.31 L803.24,1092.66 L805.12,1091.98 L806.99,1091.28 L808.85,1090.57 L810.71,1089.82 L812.55,1089.06 L814.39,1088.27 L816.21,1087.47 L818.03,1086.63 L819.84,1085.78 L821.63,1084.89 L823.40,1083.98 L825.16,1083.02 L826.89,1082.03 L828.60,1081.00 L830.28,1079.93 L831.94,1078.81 L833.57,1077.66 L835.17,1076.46 L836.73,1075.22 L838.26,1073.93 L839.76,1072.61 L841.23,1071.26 L842.66,1069.86 L844.05,1068.43 L845.42,1066.97 L846.75,1065.48 L848.04,1063.96 L849.31,1062.42 L850.54,1060.85 L851.75,1059.26 L852.93,1057.64 L854.08,1056.01 L855.21,1054.37 L856.32,1052.71 L857.41,1051.03 L858.48,1049.35 L859.54,1047.65 L860.58,1045.95 L861.60,1044.23 L862.61,1042.51 L863.61,1040.78 L864.59,1039.04 L865.56,1037.29 L866.53,1035.54 L867.48,1033.79 L868.42,1032.02 L869.35,1030.26 L870.27,1028.49 L871.19,1026.71 L872.09,1024.93 L872.99,1023.15 L873.88,1021.36 L874.77,1019.57 L875.64,1017.77 L876.51,1015.98 L877.37,1014.17 L878.23,1012.37 L879.07,1010.56 L879.90,1008.74 L880.72,1006.92 L881.53,1005.10 L882.34,1003.27 L883.13,1001.43 L883.91,999.59 L884.67,997.75 L885.43,995.90 L886.18,994.05 L886.91,992.19 L887.64,990.33 L888.35,988.46 L889.06,986.60 L889.75,984.72 L890.43,982.84 L891.10,980.96 L891.77,979.08 L892.42,977.19 L893.06,975.30 L893.69,973.41 L894.31,971.51 L894.93,969.61 L895.53,967.70 L896.13,965.80 L896.72,963.89 L897.30,961.98 L897.87,960.06 L898.43,958.15 L898.99,956.23 L899.54,954.31 L900.09,952.39 L900.63,950.47 L901.16,948.54 L901.69,946.61 L902.21,944.69 L902.72,942.76 L903.23,940.82 L903.74,938.89 L904.24,936.96 L904.73,935.02 L905.22,933.09 L905.71,931.15 L906.19,929.21 L906.66,927.27 L907.14,925.33 L907.60,923.39 L908.07,921.45 L908.53,919.50 L908.99,917.56 L909.44,915.61 L909.89,913.67 L910.33,911.72 L910.78,909.77 L911.22,907.82 L911.65,905.87 L912.09,903.92 L912.51,901.97 L912.94,900.02 L913.37,898.07 L913.79,896.12 L914.20,894.17 L914.62,892.21 L915.03,890.26 L915.44,888.30 L915.85,886.35 L916.25,884.39 L916.66,882.43 L917.06,880.48 L917.46,878.52 L917.85,876.56 L918.25,874.61 L918.64,872.65 L919.04,870.69 L919.43,868.73 L919.82,866.77 L920.21,864.81 L920.59,862.85 L920.98,860.89 L921.37,858.93 L921.75,856.97 L922.14,855.01 L922.52,853.05 L922.90,851.09 L923.29,849.13 L923.67,847.17 L924.05,845.21 L924.43,843.25 L924.81,841.29 L925.19,839.33 L925.58,837.37 L925.96,835.41 L926.34,833.45 L926.72,831.49 L927.10,829.53 L927.48,827.57 L927.87,825.61 L928.25,823.65 L928.63,821.69 L929.02,819.73 L929.40,817.77" fill="none" stroke="#00c800" stroke-width="3" stroke-dasharray="14.8 5.3 3.6 5.5"/>
<path d="M346.00,1302.60 L346.43,1300.65 L346.85,1298.70 L347.26,1296.75 L347.68,1294.79 L348.09,1292.84 L348.50,1290.88 L348.90,1288.93 L349.31,1286.98 L349.71,1285.02 L350.12,1283.07 L350.53,1281.11 L350.94,1279.16 L351.35,1277.21 L351.77,1275.25 L352.19,1273.30 L352.61,1271.35 L353.05,1269.40 L353.48,1267.46 L353.93,1265.51 L354.39,1263.57 L354.86,1261.63 L355.34,1259.69 L355.83,1257.76 L356.34,1255.82 L356.86,1253.90 L357.40,1251.98 L357.95,1250.06 L358.52,1248.14 L359.10,1246.23 L359.69,1244.33 L360.30,1242.43 L360.92,1240.53 L361.56,1238.64 L362.21,1236.75 L362.87,1234.86 L363.53,1232.98 L364.21,1231.10 L364.89,1229.23 L365.57,1227.35 L366.26,1225.48 L366.96,1223.61 L367.67,1221.74 L368.39,1219.88 L369.11,1218.02 L369.85,1216.16 L370.60,1214.31 L371.36,1212.47 L372.14,1210.63 L372.93,1208.80 L373.75,1206.98 L374.58,1205.16 L375.44,1203.36 L376.33,1201.58 L377.25,1199.80 L378.20,1198.05 L379.18,1196.31 L380.19,1194.59 L381.24,1192.89 L382.32,1191.21 L383.44,1189.56 L384.59,1187.93 L385.78,1186.32 L387.00,1184.74 L388.25,1183.19 L389.53,1181.65 L390.83,1180.14 L392.17,1178.66 L393.53,1177.20 L394.92,1175.77 L396.35,1174.37 L397.81,1173.01 L399.30,1171.68 L400.83,1170.40 L402.38,1169.15 L403.98,1167.95 L405.61,1166.80 L407.27,1165.70 L408.97,1164.65 L410.70,1163.65 L412.46,1162.71 L414.25,1161.83 L416.07,1161.00 L417.91,1160.22 L419.77,1159.50 L421.65,1158.82 L423.54,1158.20 L425.45,1157.62 L427.38,1157.08 L429.31,1156.58 L431.25,1156.11 L433.20,1155.68 L435.15,1155.28 L437.12,1154.91 L439.08,1154.58 L441.06,1154.27 L443.03,1153.99 L445.01,1153.74 L447.00,1153.52 L448.98,1153.32 L450.97,1153.14 L452.96,1152.98 L454.95,1152.84 L456.94,1152.72 L458.94,1152.61 L460.93,1152.52 L462.93,1152.44 L464.92,1152.37 L466.92,1152.32 L468.91,1152.27 L470.91,1152.24 L472.90,1152.22 L474.90,1152.20 L476.90,1152.20 L478.89,1152.20 L480.89,1152.21 L482.89,1152.23 L484.88,1152.26 L486.88,1152.29 L488.87,1152.33 L490.87,1152.38 L492.86,1152.43 L494.86,1152.48 L496.86,1152.54 L498.85,1152.60 L500.85,1152.67 L502.84,1152.74 L504.84,1152.81 L506.83,1152.88 L508.83,1152.95 L510.82,1153.02 L512.82,1153.09 L514.81,1153.17 L516.81,1153.24 L518.80,1153.31 L520.80,1153.37 L522.79,1153.44 L524.79,1153.50 L526.78,1153.55 L528.78,1153.61 L530.77,1153.66 L532.77,1153.70 L534.76,1153.75 L536.76,1153.79 L538.76,1153.82 L540.75,1153.85 L542.75,1153.88 L544.74,1153.90 L546.74,1153.93 L548.74,1153.94 L550.73,1153.96 L552.73,1153.97 L554.72,1153.97 L556.72,1153.97 L558.72,1153.97 L560.71,1153.97 L562.71,1153.96 L564.71,1153.95 L566.70,1153.93 L568.70,1153.91 L570.69,1153.89 L572.69,1153.86 L574.69,1153.83 L576.68,1153.80 L578.68,1153.76 L580.67,1153.72 L582.67,1153.68 L584.67,1153.63 L586.66,1153.58 L588.66,1153.53 L590.65,1153.47 L592.65,1153.41 L594.64,1153.34 L596.64,1153.28 L598.63,1153.20 L600.63,1153.13 L602.62,1153.05 L604.62,1152.97 L606.61,1152.88 L608.60,1152.79 L610.60,1152.70 L612.59,1152.60 L614.59,1152.51 L616.58,1152.40 L618.57,1152.30 L620.57,1152.19 L622.56,1152.07 L624.55,1151.96 L626.55,1151.84 L628.54,1151.72 L630.53,1151.59 L632.52,1151.46 L634.51,1151.33 L636.51,1151.20 L638.50,1151.06 L640.49,1150.92 L642.48,1150.78 L644.47,1150.64 L646.46,1150.50 L648.45,1150.35 L650.44,1150.20 L652.43,1150.05 L654.42,1149.90 L656.41,1149.75 L658.41,1149.59 L660.40,1149.44 L662.39,1149.28 L664.38,1149.12 L666.37,1148.96 L668.36,1148.80 L670.34,1148.64 L672.33,1148.48 L674.32,1148.32 L676.31,1148.16 L678.30,1148.00 L680.29,1147.84 L682.28,1147.68 L684.27,1147.52 L686.26,1147.36 L688.25,1147.20 L690.24,1147.04 L692.23,1146.88 L694.22,1146.72 L696.21,1146.57 L698.20,1146.41 L700.19,1146.26 L702.18,1146.10 L704.17,1145.95 L706.16,1145.80 L708.15,1145.65 L710.15,1145.50 L712.14,1145.36 L714.13,1145.22 L716.12,1145.08 L718.11,1144.94 L720.10,1144.80 L722.09,1144.67 L724.09,1144.54 L726.08,1144.41 L728.07,1144.28 L730.06,1144.16 L732.05,1144.04 L734.05,1143.92 L736.04,1143.81 L738.03,1143.70 L740.03,1143.59 L742.02,1143.49 L744.01,1143.38 L746.01,1143.27 L748.00,1143.16 L749.99,1143.04 L751.99,1142.92 L753.98,1142.80 L755.97,1142.66 L757.96,1142.52 L759.95,1142.37 L761.94,1142.20 L763.93,1142.02 L765.92,1141.83 L767.90,1141.63 L769.89,1141.41 L771.87,1141.17 L773.85,1140.92 L775.82,1140.64 L777.80,1140.35 L779.77,1140.03 L781.74,1139.69 L783.70,1139.33 L785.66,1138.94 L787.61,1138.53 L789.56,1138.10 L791.50,1137.63 L793.44,1137.14 L795.36,1136.62 L797.28,1136.08 L799.20,1135.50 L801.10,1134.89 L802.99,1134.26 L804.87,1133.59 L806.74,1132.90 L808.60,1132.17 L810.45,1131.41 L812.28,1130.63 L814.10,1129.81 L815.91,1128.96 L817.70,1128.08 L819.48,1127.17 L821.24,1126.23 L822.99,1125.26 L824.71,1124.25 L826.41,1123.21 L828.10,1122.14 L829.76,1121.03 L831.39,1119.89 L833.01,1118.72 L834.60,1117.51 L836.16,1116.27 L837.70,1115.00 L839.22,1113.70 L840.71,1112.37 L842.17,1111.01 L843.61,1109.63 L845.02,1108.22 L846.41,1106.78 L847.77,1105.33 L849.11,1103.84 L850.42,1102.34 L851.72,1100.82 L852.98,1099.28 L854.23,1097.72 L855.46,1096.14 L856.67,1094.55 L857.86,1092.95 L859.03,1091.34 L860.18,1089.71 L861.32,1088.07 L862.45,1086.42 L863.56,1084.76 L864.66,1083.09 L865.74,1081.42 L866.81,1079.73 L867.87,1078.04 L868.92,1076.34 L869.95,1074.63 L870.98,1072.92 L871.99,1071.20 L872.99,1069.48 L873.99,1067.74 L874.97,1066.01 L875.95,1064.27 L876.91,1062.52 L877.86,1060.76 L878.80,1059.00 L879.73,1057.23 L880.64,1055.46 L881.54,1053.68 L882.43,1051.89 L883.30,1050.09 L884.16,1048.29 L885.01,1046.49 L885.85,1044.67 L886.67,1042.85 L887.47,1041.03 L888.27,1039.19 L889.05,1037.36 L889.81,1035.51 L890.57,1033.67 L891.31,1031.81 L892.04,1029.95 L892.76,1028.09 L893.46,1026.22 L894.16,1024.35 L894.84,1022.48 L895.51,1020.60 L896.18,1018.71 L896.83,1016.83 L897.47,1014.94 L898.10,1013.04 L898.73,1011.15 L899.34,1009.25 L899.95,1007.35 L900.55,1005.45 L901.15,1003.54 L901.74,1001.63 L902.32,999.72 L902.89,997.81 L903.46,995.90 L904.02,993.98 L904.58,992.06 L905.13,990.15 L905.67,988.23 L906.21,986.30 L906.75,984.38 L907.28,982.46 L907.81,980.53 L908.33,978.60 L908.84,976.68 L909.36,974.75 L909.87,972.82 L910.37,970.88 L910.87,968.95 L911.37,967.02 L911.86,965.08 L912.35,963.15 L912.84,961.21 L913.32,959.28 L913.80,957.34 L914.28,955.40 L914.75,953.46 L915.22,951.52 L915.69,949.58 L916.15,947.64 L916.61,945.70 L917.07,943.75 L917.53,941.81 L917.98,939.87 L918.44,937.92 L918.89,935.98 L919.33,934.03 L919.78,932.09 L920.22,930.14 L920.66,928.19 L921.10,926.25 L921.54,924.30 L921.98,922.35 L922.41,920.40 L922.84,918.45 L923.27,916.50 L923.70,914.55 L924.13,912.60 L924.56,910.65 L924.98,908.70 L925.41,906.75 L925.83,904.80 L926.25,902.85 L926.67,900.90 L927.09,898.95 L927.51,897.00 L927.93,895.04 L928.34,893.09 L928.76,891.14 L929.17,889.19 L929.59,887.23 L930.00,885.28" fill="none" stroke="#ff7f00" stroke-width="3" stroke-dasharray="14.8 3.1 2.5 3 2.4 3.4"/>
<path d="M401,831.8H500" stroke="#cc0000" stroke-width="3" fill="none"/>
<text x="517" y="838.8" class="lg">Coventional (Water)</text>
<path d="M401,858.0H500" stroke="#000000" stroke-width="3" stroke-dasharray="21.5 7.7" fill="none"/>
<text x="517" y="865.0" class="lg">Coventional (hnf)</text>
<path d="M401,884.3H500" stroke="#2020ff" stroke-width="3" stroke-dasharray="14.8 14.4" fill="none"/>
<text x="517" y="891.3" class="lg">Grooves (hnf)</text>
<path d="M401,910.5H500" stroke="#00c800" stroke-width="3" stroke-dasharray="14.8 5.3 3.6 5.5" fill="none"/>
<text x="517" y="917.5" class="lg">Teeth (hnf)</text>
<path d="M401,936.8H500" stroke="#ff7f00" stroke-width="3" stroke-dasharray="14.8 3.1 2.5 3 2.4 3.4" fill="none"/>
<text x="517" y="943.8" class="lg">Pin (hnf)</text>
<text x="614.3" y="1042.1" class="bl" text-anchor="middle" letter-spacing="0.6">(b)</text>
<path d="M365.9,1322.5V1314.5M385.3,1322.5V1314.5M404.8,1322.5V1314.5M424.3,1322.5V1314.5M463.2,1322.5V1314.5M482.7,1322.5V1314.5M502.2,1322.5V1314.5M521.7,1322.5V1314.5M560.6,1322.5V1314.5M580.1,1322.5V1314.5M599.6,1322.5V1314.5M619.0,1322.5V1314.5M658.0,1322.5V1314.5M677.5,1322.5V1314.5M696.9,1322.5V1314.5M716.4,1322.5V1314.5M755.3,1322.5V1314.5M774.8,1322.5V1314.5M794.3,1322.5V1314.5M813.8,1322.5V1314.5M852.7,1322.5V1314.5M872.2,1322.5V1314.5M891.7,1322.5V1314.5M911.1,1322.5V1314.5M330.4,1309.1H338.9M330.4,1295.7H338.9M330.4,1282.4H338.9M330.4,1269.0H338.9M330.4,1242.2H338.9M330.4,1228.8H338.9M330.4,1215.5H338.9M330.4,1202.1H338.9M330.4,1175.3H338.9M330.4,1161.9H338.9M330.4,1148.6H338.9M330.4,1135.2H338.9M330.4,1108.4H338.9M330.4,1095.0H338.9M330.4,1081.7H338.9M330.4,1068.3H338.9M330.4,1041.5H338.9M330.4,1028.1H338.9M330.4,1014.8H338.9M330.4,1001.4H338.9M330.4,974.6H338.9M330.4,961.2H338.9M330.4,947.9H338.9M330.4,934.5H338.9M330.4,907.7H338.9M330.4,894.3H338.9M330.4,881.0H338.9M330.4,867.6H338.9M330.4,840.8H338.9M330.4,827.4H338.9M330.4,814.1H338.9M330.4,800.7H338.9M330.4,773.9H338.9" stroke="#555" stroke-width="1.4" fill="none"/>
<path d="M346.4,1322.5V1309.0M443.8,1322.5V1309.0M541.1,1322.5V1309.0M638.5,1322.5V1309.0M735.9,1322.5V1309.0M833.2,1322.5V1309.0M930.6,1322.5V1309.0M330.4,1255.6H344.4M330.4,1188.7H344.4M330.4,1121.8H344.4M330.4,1054.9H344.4M330.4,988.0H344.4M330.4,921.1H344.4M330.4,854.2H344.4M330.4,787.3H344.4" stroke="#000" stroke-width="3" fill="none"/>
<rect x="330.4" y="759.8" width="616.3" height="562.7" fill="none" stroke="#000" stroke-width="2.5"/>
<text x="321" y="795.2" class="tk" text-anchor="end">302</text>
<text x="321" y="862.1" class="tk" text-anchor="end">301.5</text>
<text x="321" y="929.0" class="tk" text-anchor="end">301</text>
<text x="321" y="995.9" class="tk" text-anchor="end">300.5</text>
<text x="321" y="1062.8" class="tk" text-anchor="end">300</text>
<text x="321" y="1129.7" class="tk" text-anchor="end">299.5</text>
<text x="321" y="1196.6" class="tk" text-anchor="end">299</text>
<text x="321" y="1263.5" class="tk" text-anchor="end">298.5</text>
<text x="321" y="1330.4" class="tk" text-anchor="end">298</text>
<text x="346.4" y="1344.8" class="tk" text-anchor="middle">0</text>
<text x="443.8" y="1344.8" class="tk" text-anchor="middle">600</text>
<text x="541.1" y="1344.8" class="tk" text-anchor="middle">1200</text>
<text x="638.5" y="1344.8" class="tk" text-anchor="middle">1800</text>
<text x="735.9" y="1344.8" class="tk" text-anchor="middle">2400</text>
<text x="833.2" y="1344.8" class="tk" text-anchor="middle">3000</text>
<text x="930.6" y="1344.8" class="tk" text-anchor="middle">3600</text>
<text transform="translate(638.4,1371.6) scale(0.975,1)" class="ax" text-anchor="middle">Time (s)</text>
<text transform="translate(256.4,1038.0) rotate(-90) scale(0.98,1)" class="ax" text-anchor="middle">Maximum module temperature (K)</text>
<rect x="0" y="1586.6" width="648" height="1.4" fill="#000"/><rect x="648.5" y="1586.6" width="1" height="1.4" fill="#d00"/><rect x="649.5" y="1586.6" width="1.5" height="1.4" fill="#00f"/>
</svg>
</body></html>
